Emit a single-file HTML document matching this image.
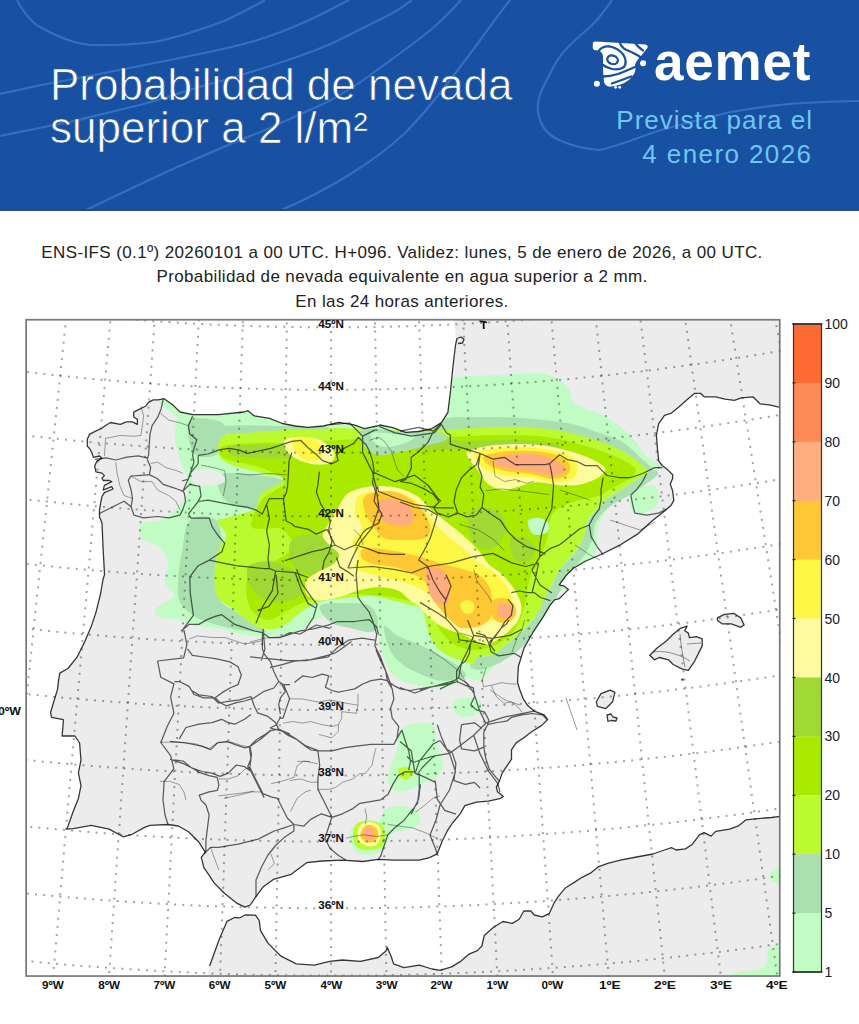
<!DOCTYPE html>
<html><head><meta charset="utf-8"><style>
*{margin:0;padding:0;box-sizing:border-box}
html,body{width:859px;height:1024px;background:#fff;overflow:hidden}
body{position:relative;font-family:"Liberation Sans",Arial,sans-serif}
#hdr{position:absolute;left:0;top:0;width:859px;height:211px;background:#1851a1;overflow:hidden}
.l{position:absolute;white-space:nowrap;line-height:1}
.t{left:50px;color:#fff;font-size:44px;-webkit-text-stroke:0.7px #1851a1;paint-order:normal}
.s{right:50px;color:#6ec6f2;font-size:26px;text-align:right}
#logo{left:654px;top:35px;color:#fff;font-weight:bold;font-size:53px;letter-spacing:0.8px}
.sub{left:0;width:804px;text-align:center;font-size:17px;letter-spacing:0.38px;color:#222}
</style></head><body>
<div id="hdr">
<svg width="859" height="211" viewBox="0 0 859 211" style="position:absolute;left:0;top:0" fill="none" stroke="#336fc4" stroke-width="2.2">
<path d="M17,0 C25,15 33,24 42,28 C60,38 75,44 91,45 C115,46 135,44 154,42 C180,37 200,30 224,21 C240,14 253,7 265,0"/>
<path d="M0,94 C30,87 55,82 84,77 C115,71 145,65 175,59 C205,53 230,48 251,42 C275,35 292,28 307,21 C325,13 337,6 349,0"/>
<path d="M0,136 C25,131 48,126 70,122 C95,116 118,110 140,105 C165,98 188,90 210,84 C235,77 258,70 279,63 C300,56 318,50 335,42 C355,32 373,23 391,14 C400,9 406,4 412,0"/>
<path d="M84,211 C115,196 145,182 175,168 C205,155 232,143 258,133 C280,124 300,114 321,105 C342,95 360,83 377,70 C398,55 416,42 433,28 C444,18 453,9 461,0"/>
<path d="M279,211 C305,200 328,188 349,175 C370,162 389,148 405,133 C420,118 434,101 447,84 C462,65 476,46 489,28 C496,18 503,9 510,0"/>
<path d="M612,0 C605,10 598,20 590,27 C575,40 560,52 552,70 C544,85 536,98 538,112 C540,126 548,135 559,140 C572,146 585,149 600,150 C620,146 643,135 665,129 C690,122 712,116 734,111.5 C760,107 782,104 804,103 C825,102 842,101 859,101"/>
</svg>
<div style="position:absolute;left:0;top:208.8px;width:859px;height:2.1px;background:#234d8a"></div>
<div class="l t" style="top:62.8px">Probabilidad de nevada</div>
<div class="l t" style="top:106px">superior a 2 l/m²</div>
<div class="l" id="logo">aemet</div>
<svg style="position:absolute;left:588px;top:36px" width="64" height="56" viewBox="0 0 64 56">
<path fill="#fff" d="M5,8 Q4,5.5 7.5,5.5 L57.5,8.5 Q61,9.5 59,12.5 L53,20 Q48,25 47,29 Q48.5,33 46,38 L42,43 Q36,48 29,49.5 L22,50.8 Q17,50 16,46 L15,34 L15,20 Q14,15 10,14.5 L6,14 Q4,12 5,8 Z"/>
<g fill="none" stroke="#1851a1" stroke-width="2.3" stroke-linecap="round">
<ellipse cx="24.6" cy="23.8" rx="5.4" ry="4.2" transform="rotate(20 24.6 23.8)"/>
<path d="M11,14.5 Q15,9.5 22,10.5 Q31,12.5 35.5,19 Q39.5,26 36,31 Q31,34.5 24,33 Q18,31.5 15,29"/>
<path d="M31.5,5.5 Q33,11 37.5,13.5 Q44,16 50,19.5 L53,21.5"/>
<path d="M47.5,7.5 Q50.5,11.5 55,14.5"/>
<path d="M15,40.5 Q22,40.5 30,38 Q38,35 47,31"/>
<path d="M24,47.5 Q34,44 43,40.5"/>
</g>
<circle cx="55.1" cy="27.2" r="3" fill="#fff"/><circle cx="8.9" cy="47.7" r="3" fill="#fff"/>
<circle cx="27.6" cy="51.3" r="1.4" fill="#fff"/><circle cx="31.7" cy="51.3" r="1.4" fill="#fff"/>
</svg>
<div class="l s" style="top:106.7px;letter-spacing:1px;right:46px">Prevista para el</div>
<div class="l s" style="top:140.8px;letter-spacing:1.4px;right:46.6px">4 enero 2026</div>
</div>
<div class="l sub" style="top:243.6px">ENS-IFS (0.1º) 20260101 a 00 UTC. H+096. Validez: lunes, 5 de enero de 2026, a 00 UTC.</div>
<div class="l sub" style="top:268.2px">Probabilidad de nevada equivalente en agua superior a 2 mm.</div>
<div class="l sub" style="top:293.1px">En las 24 horas anteriores.</div>
<svg width="859" height="1024" viewBox="0 0 859 1024" style="position:absolute;left:0;top:0">
<defs><clipPath id="fr"><rect x="25.3" y="318.9" width="755.3000000000001" height="658.0"/></clipPath><clipPath id="landclip"><path d="M454.0,319.0 L455.5,335.0 L456.0,340.0 L455.5,345.0 L453.0,366.0 L450.4,391.8 L447.9,412.3 L441.5,422.6 L431.0,429.0 L418.4,431.5 L405.6,432.3 L392.8,427.7 L380.0,425.0 L377.2,426.0 L364.4,428.7 L354.0,424.8 L338.8,422.3 L323.4,426.0 L308.0,427.4 L295.2,426.0 L282.4,423.5 L269.6,418.4 L254.3,415.9 L247.9,410.7 L244.0,412.0 L218.4,414.6 L192.8,414.6 L180.0,412.0 L173.6,405.6 L164.2,398.7 L158.1,399.9 L153.3,399.9 L148.4,402.3 L145.9,406.0 L138.6,409.7 L133.7,412.1 L133.7,417.0 L137.4,419.4 L137.4,424.3 L132.5,421.9 L126.4,421.9 L120.3,424.3 L110.5,422.5 L105.6,425.5 L102.0,428.0 L94.7,431.6 L89.8,434.1 L87.3,439.0 L87.3,446.3 L89.8,448.7 L92.2,453.6 L93.4,457.3 L99.5,456.0 L102.0,458.5 L97.1,460.9 L94.7,465.8 L95.9,471.9 L102.0,473.1 L104.4,475.6 L102.0,478.0 L103.2,480.5 L109.3,480.5 L111.7,481.7 L104.4,485.4 L103.2,490.2 L111.7,486.6 L113.0,489.0 L104.4,492.7 L102.0,496.3 L100.8,502.4 L99.5,509.8 L99.5,517.1 L102.0,523.0 L103.0,546.5 L104.5,574.6 L102.9,580.0 L100.5,594.0 L95.9,612.6 L91.2,626.6 L84.2,642.9 L77.3,656.8 L67.9,668.5 L59.8,673.1 L58.6,680.1 L57.5,689.4 L54.0,701.0 L50.5,712.7 L51.6,717.4 L63.3,719.7 L63.3,722.0 L62.1,736.0 L74.9,736.0 L79.6,743.0 L80.7,757.0 L81.0,760.0 L78.4,772.8 L81.0,785.6 L78.4,798.4 L73.3,811.2 L66.9,829.1 L73.3,828.6 L91.2,825.3 L109.1,829.1 L123.2,836.8 L132.2,834.3 L145.0,827.1 L150.1,825.3 L168.0,824.5 L178.3,826.0 L188.5,831.7 L198.8,842.0 L205.2,852.2 L201.3,857.3 L203.9,867.6 L209.0,875.2 L214.1,882.9 L224.4,893.2 L237.2,903.4 L244.9,907.2 L250.2,905.0 L255.4,897.3 L263.0,887.1 L273.3,879.4 L291.2,874.3 L306.6,862.7 L322.0,861.0 L342.4,860.2 L362.9,861.5 L378.3,859.4 L393.6,860.2 L419.3,860.2 L429.5,857.6 L437.2,853.8 L442.3,841.0 L447.4,830.7 L452.5,823.0 L460.0,814.1 L464.9,805.7 L476.6,802.2 L488.2,801.1 L499.8,798.7 L503.3,796.4 L497.5,791.8 L496.4,787.1 L499.8,780.1 L502.2,773.1 L506.8,766.1 L511.5,759.2 L511.5,749.8 L516.1,742.9 L523.1,738.2 L532.4,731.2 L541.8,725.4 L547.6,719.6 L544.1,714.9 L534.8,711.4 L527.8,705.6 L523.1,698.6 L519.6,689.3 L517.5,682.0 L518.4,666.3 L524.2,647.6 L533.6,631.3 L542.9,617.4 L549.8,605.7 L554.5,599.9 L559.2,598.7 L563.8,594.1 L568.5,589.4 L563.8,585.9 L559.2,584.8 L566.1,575.5 L573.1,568.5 L584.8,561.5 L601.1,554.5 L619.7,545.2 L638.3,533.6 L652.3,520.7 L663.9,511.4 L670.9,505.6 L673.8,500.4 L672.7,491.1 L670.3,484.1 L672.7,478.3 L672.7,474.8 L668.0,470.1 L662.2,465.5 L658.7,460.8 L657.5,449.2 L656.4,435.2 L658.7,423.6 L664.5,415.4 L671.5,413.1 L678.5,407.3 L687.8,399.1 L694.8,393.3 L700.6,393.3 L704.1,396.8 L715.7,396.8 L725.0,399.1 L734.4,400.3 L741.3,397.9 L753.0,396.8 L760.0,403.8 L769.3,404.9 L780.0,407.3 L780.0,319.0 Z M207.0,976.0 L209.6,966.0 L219.3,939.3 L227.0,921.3 L234.6,917.5 L240.0,917.8 L244.9,915.0 L255.4,915.2 L259.2,920.4 L260.5,930.6 L268.2,943.4 L281.0,956.2 L296.3,963.9 L314.3,965.2 L329.6,961.3 L342.4,960.0 L360.4,961.3 L378.3,957.5 L386.0,951.0 L387.2,947.2 L391.1,956.2 L393.6,963.9 L403.9,967.7 L419.3,965.2 L432.0,969.0 L440.0,970.4 L451.6,966.9 L461.0,961.1 L469.1,954.1 L477.3,950.6 L481.9,946.0 L484.2,935.5 L493.6,927.3 L502.9,921.5 L512.2,923.4 L519.2,919.2 L523.8,911.0 L530.8,911.0 L534.3,915.0 L542.4,916.8 L549.4,913.3 L554.1,902.9 L558.7,895.9 L565.7,887.7 L575.0,881.9 L582.0,877.3 L591.3,872.6 L598.3,866.8 L607.6,863.3 L620.3,860.1 L636.6,857.0 L652.9,854.0 L664.5,850.0 L671.5,847.7 L676.1,850.0 L685.5,848.9 L692.4,844.2 L699.4,834.9 L704.1,832.6 L711.1,836.1 L715.7,831.4 L729.7,829.1 L739.0,825.6 L746.0,819.8 L757.6,818.6 L771.6,817.5 L780.0,816.3 L780.0,976.0 Z M649.8,655.2 L656.8,648.2 L666.1,641.2 L673.1,634.2 L680.1,628.4 L687.1,626.1 L684.8,630.7 L688.3,633.1 L689.4,637.7 L696.4,636.6 L702.2,638.9 L702.2,645.9 L698.7,652.9 L694.1,662.2 L688.3,670.3 L682.4,669.2 L673.1,664.5 L668.5,659.8 L659.2,657.5 L654.5,659.8 Z M717.4,617.9 L724.4,614.4 L733.7,613.3 L740.7,617.9 L744.1,624.9 L740.7,627.3 L731.3,623.8 L722.0,623.8 L717.4,620.3 Z M596.3,701.8 L601.0,693.6 L610.3,690.1 L614.9,692.4 L612.6,701.8 L605.6,708.7 L597.5,706.4 Z M607.0,715.0 L611.0,714.0 L613.0,717.0 L617.0,718.0 L616.0,721.0 L611.0,720.5 L608.0,721.5 Z"/></clipPath></defs>
<rect x="25.3" y="318.9" width="755.3000000000001" height="658.0" fill="#fff"/>
<g clip-path="url(#fr)">
<g fill="#ececec"><path d="M454.0,319.0 L455.5,335.0 L456.0,340.0 L455.5,345.0 L453.0,366.0 L450.4,391.8 L447.9,412.3 L441.5,422.6 L431.0,429.0 L418.4,431.5 L405.6,432.3 L392.8,427.7 L380.0,425.0 L377.2,426.0 L364.4,428.7 L354.0,424.8 L338.8,422.3 L323.4,426.0 L308.0,427.4 L295.2,426.0 L282.4,423.5 L269.6,418.4 L254.3,415.9 L247.9,410.7 L244.0,412.0 L218.4,414.6 L192.8,414.6 L180.0,412.0 L173.6,405.6 L164.2,398.7 L158.1,399.9 L153.3,399.9 L148.4,402.3 L145.9,406.0 L138.6,409.7 L133.7,412.1 L133.7,417.0 L137.4,419.4 L137.4,424.3 L132.5,421.9 L126.4,421.9 L120.3,424.3 L110.5,422.5 L105.6,425.5 L102.0,428.0 L94.7,431.6 L89.8,434.1 L87.3,439.0 L87.3,446.3 L89.8,448.7 L92.2,453.6 L93.4,457.3 L99.5,456.0 L102.0,458.5 L97.1,460.9 L94.7,465.8 L95.9,471.9 L102.0,473.1 L104.4,475.6 L102.0,478.0 L103.2,480.5 L109.3,480.5 L111.7,481.7 L104.4,485.4 L103.2,490.2 L111.7,486.6 L113.0,489.0 L104.4,492.7 L102.0,496.3 L100.8,502.4 L99.5,509.8 L99.5,517.1 L102.0,523.0 L103.0,546.5 L104.5,574.6 L102.9,580.0 L100.5,594.0 L95.9,612.6 L91.2,626.6 L84.2,642.9 L77.3,656.8 L67.9,668.5 L59.8,673.1 L58.6,680.1 L57.5,689.4 L54.0,701.0 L50.5,712.7 L51.6,717.4 L63.3,719.7 L63.3,722.0 L62.1,736.0 L74.9,736.0 L79.6,743.0 L80.7,757.0 L81.0,760.0 L78.4,772.8 L81.0,785.6 L78.4,798.4 L73.3,811.2 L66.9,829.1 L73.3,828.6 L91.2,825.3 L109.1,829.1 L123.2,836.8 L132.2,834.3 L145.0,827.1 L150.1,825.3 L168.0,824.5 L178.3,826.0 L188.5,831.7 L198.8,842.0 L205.2,852.2 L201.3,857.3 L203.9,867.6 L209.0,875.2 L214.1,882.9 L224.4,893.2 L237.2,903.4 L244.9,907.2 L250.2,905.0 L255.4,897.3 L263.0,887.1 L273.3,879.4 L291.2,874.3 L306.6,862.7 L322.0,861.0 L342.4,860.2 L362.9,861.5 L378.3,859.4 L393.6,860.2 L419.3,860.2 L429.5,857.6 L437.2,853.8 L442.3,841.0 L447.4,830.7 L452.5,823.0 L460.0,814.1 L464.9,805.7 L476.6,802.2 L488.2,801.1 L499.8,798.7 L503.3,796.4 L497.5,791.8 L496.4,787.1 L499.8,780.1 L502.2,773.1 L506.8,766.1 L511.5,759.2 L511.5,749.8 L516.1,742.9 L523.1,738.2 L532.4,731.2 L541.8,725.4 L547.6,719.6 L544.1,714.9 L534.8,711.4 L527.8,705.6 L523.1,698.6 L519.6,689.3 L517.5,682.0 L518.4,666.3 L524.2,647.6 L533.6,631.3 L542.9,617.4 L549.8,605.7 L554.5,599.9 L559.2,598.7 L563.8,594.1 L568.5,589.4 L563.8,585.9 L559.2,584.8 L566.1,575.5 L573.1,568.5 L584.8,561.5 L601.1,554.5 L619.7,545.2 L638.3,533.6 L652.3,520.7 L663.9,511.4 L670.9,505.6 L673.8,500.4 L672.7,491.1 L670.3,484.1 L672.7,478.3 L672.7,474.8 L668.0,470.1 L662.2,465.5 L658.7,460.8 L657.5,449.2 L656.4,435.2 L658.7,423.6 L664.5,415.4 L671.5,413.1 L678.5,407.3 L687.8,399.1 L694.8,393.3 L700.6,393.3 L704.1,396.8 L715.7,396.8 L725.0,399.1 L734.4,400.3 L741.3,397.9 L753.0,396.8 L760.0,403.8 L769.3,404.9 L780.0,407.3 L780.0,319.0 Z"/><path d="M207.0,976.0 L209.6,966.0 L219.3,939.3 L227.0,921.3 L234.6,917.5 L240.0,917.8 L244.9,915.0 L255.4,915.2 L259.2,920.4 L260.5,930.6 L268.2,943.4 L281.0,956.2 L296.3,963.9 L314.3,965.2 L329.6,961.3 L342.4,960.0 L360.4,961.3 L378.3,957.5 L386.0,951.0 L387.2,947.2 L391.1,956.2 L393.6,963.9 L403.9,967.7 L419.3,965.2 L432.0,969.0 L440.0,970.4 L451.6,966.9 L461.0,961.1 L469.1,954.1 L477.3,950.6 L481.9,946.0 L484.2,935.5 L493.6,927.3 L502.9,921.5 L512.2,923.4 L519.2,919.2 L523.8,911.0 L530.8,911.0 L534.3,915.0 L542.4,916.8 L549.4,913.3 L554.1,902.9 L558.7,895.9 L565.7,887.7 L575.0,881.9 L582.0,877.3 L591.3,872.6 L598.3,866.8 L607.6,863.3 L620.3,860.1 L636.6,857.0 L652.9,854.0 L664.5,850.0 L671.5,847.7 L676.1,850.0 L685.5,848.9 L692.4,844.2 L699.4,834.9 L704.1,832.6 L711.1,836.1 L715.7,831.4 L729.7,829.1 L739.0,825.6 L746.0,819.8 L757.6,818.6 L771.6,817.5 L780.0,816.3 L780.0,976.0 Z"/><path d="M649.8,655.2 L656.8,648.2 L666.1,641.2 L673.1,634.2 L680.1,628.4 L687.1,626.1 L684.8,630.7 L688.3,633.1 L689.4,637.7 L696.4,636.6 L702.2,638.9 L702.2,645.9 L698.7,652.9 L694.1,662.2 L688.3,670.3 L682.4,669.2 L673.1,664.5 L668.5,659.8 L659.2,657.5 L654.5,659.8 Z"/><path d="M717.4,617.9 L724.4,614.4 L733.7,613.3 L740.7,617.9 L744.1,624.9 L740.7,627.3 L731.3,623.8 L722.0,623.8 L717.4,620.3 Z"/><path d="M596.3,701.8 L601.0,693.6 L610.3,690.1 L614.9,692.4 L612.6,701.8 L605.6,708.7 L597.5,706.4 Z"/><path d="M607.0,715.0 L611.0,714.0 L613.0,717.0 L617.0,718.0 L616.0,721.0 L611.0,720.5 L608.0,721.5 Z"/></g>
<g clip-path="url(#landclip)">
<path fill="#c0fcc4" d="M178.0,395.0 C220.2,390.7 385.5,394.3 430.0,392.0 C474.5,389.7 440.3,383.5 445.0,381.0 C449.7,378.5 453.8,377.8 458.0,377.0 C462.2,376.2 463.3,376.3 470.0,376.0 C476.7,375.7 486.8,375.5 498.0,375.0 C509.2,374.5 527.3,372.5 537.0,373.0 C546.7,373.5 550.7,375.3 556.0,378.0 C561.3,380.7 566.2,385.0 569.0,389.0 C571.8,393.0 570.2,398.7 573.0,402.0 C575.8,405.3 581.2,406.8 586.0,409.0 C590.8,411.2 596.0,411.8 602.0,415.0 C608.0,418.2 616.5,423.7 622.0,428.0 C627.5,432.3 630.7,436.0 635.0,441.0 C639.3,446.0 643.5,453.8 648.0,458.0 C652.5,462.2 662.3,463.7 662.0,466.0 C661.7,468.3 650.3,468.2 646.0,472.0 C641.7,475.8 639.2,485.0 636.0,489.0 C632.8,493.0 631.0,493.5 627.0,496.0 C623.0,498.5 616.2,500.3 612.0,504.0 C607.8,507.7 604.5,513.2 602.0,518.0 C599.5,522.8 597.8,528.5 597.0,533.0 C596.2,537.5 597.2,541.2 597.0,545.0 C596.8,548.8 593.5,552.5 596.0,556.0 C598.5,559.5 613.8,559.0 612.0,566.0 C610.2,573.0 593.0,594.0 585.0,598.0 C577.0,602.0 569.2,590.0 564.0,590.0 C558.8,590.0 557.3,594.5 554.0,598.0 C550.7,601.5 547.0,606.7 544.0,611.0 C541.0,615.3 539.0,619.7 536.0,624.0 C533.0,628.3 529.3,633.2 526.0,637.0 C522.7,640.8 519.8,643.7 516.0,647.0 C512.2,650.3 509.0,651.5 503.0,657.0 C497.0,662.5 485.9,676.5 480.0,680.0 C474.1,683.5 471.1,677.7 467.6,678.0 C464.1,678.3 461.8,680.7 459.0,682.0 C456.2,683.3 454.8,684.9 451.0,686.0 C447.2,687.1 440.9,688.4 436.0,688.5 C431.1,688.6 426.7,687.5 421.5,686.4 C416.3,685.3 409.9,684.1 405.0,682.0 C400.1,679.9 395.5,677.8 392.0,674.0 C388.5,670.2 386.0,664.3 384.0,659.0 C382.0,653.7 381.1,647.5 380.0,642.0 C378.9,636.5 379.3,631.5 377.5,626.0 C375.7,620.5 372.8,612.2 369.0,609.0 C365.2,605.8 359.0,607.5 354.5,607.0 C350.0,606.5 345.9,605.0 342.0,606.0 C338.1,607.0 335.8,610.5 331.0,613.0 C326.2,615.5 318.2,618.0 313.0,621.0 C307.8,624.0 304.3,628.8 300.0,631.0 C295.7,633.2 292.5,633.0 287.0,634.0 C281.5,635.0 274.7,637.0 267.0,637.0 C259.3,637.0 248.9,635.5 240.6,634.0 C232.3,632.5 224.8,629.4 217.0,628.0 C209.2,626.6 200.2,626.8 194.0,625.5 C187.8,624.2 185.3,621.4 179.5,620.0 C173.7,618.6 162.9,619.0 159.0,617.0 C155.1,615.0 153.5,611.5 156.0,608.0 C158.5,604.5 172.5,600.3 174.0,596.0 C175.5,591.7 166.0,587.8 165.0,582.0 C164.0,576.2 169.0,567.3 168.0,561.5 C167.0,555.7 163.4,550.9 159.0,547.0 C154.6,543.1 144.5,541.8 141.6,538.0 C138.7,534.2 137.7,527.3 141.6,524.0 C145.5,520.7 157.8,522.3 165.0,518.0 C172.2,513.7 181.2,504.0 185.0,498.0 C188.8,492.0 188.8,488.3 188.0,482.0 C187.2,475.7 182.2,467.7 180.0,460.0 C177.8,452.3 175.5,443.0 175.0,436.0 C174.5,429.0 176.5,424.8 177.0,418.0 C177.5,411.2 135.8,399.3 178.0,395.0 Z M636.0,489.0 C640.3,486.0 652.5,484.3 656.0,487.0 C659.5,489.7 659.7,500.5 657.0,505.0 C654.3,509.5 644.5,514.0 640.0,514.0 C635.5,514.0 630.7,509.2 630.0,505.0 C629.3,500.8 631.7,492.0 636.0,489.0 Z M399.8,729.9 C402.6,726.6 409.3,724.0 414.8,723.2 C420.3,722.4 429.4,722.1 433.0,724.9 C436.6,727.7 435.2,735.1 436.3,739.8 C437.4,744.5 438.6,748.9 439.7,753.1 C440.8,757.3 443.6,760.6 443.0,764.8 C442.4,768.9 439.6,775.0 436.3,778.0 C433.0,781.0 427.4,781.0 423.0,783.0 C418.6,785.0 414.2,788.3 409.8,789.7 C405.4,791.1 400.1,792.4 396.5,791.3 C392.9,790.2 389.3,786.6 388.2,783.0 C387.1,779.4 388.7,774.1 389.8,769.7 C390.9,765.3 393.4,760.8 394.8,756.4 C396.2,752.0 397.3,747.6 398.1,743.2 C398.9,738.8 397.0,733.2 399.8,729.9 Z M452.0,704.0 C452.7,701.2 457.7,698.8 462.0,698.0 C466.3,697.2 474.7,697.3 478.0,699.0 C481.3,700.7 483.0,705.2 482.0,708.0 C481.0,710.8 476.0,714.8 472.0,716.0 C468.0,717.2 461.3,717.0 458.0,715.0 C454.7,713.0 451.3,706.8 452.0,704.0 Z M383.0,812.0 C386.3,807.0 392.5,806.3 398.0,806.0 C403.5,805.7 412.3,807.3 416.0,810.0 C419.7,812.7 421.0,818.8 420.0,822.0 C419.0,825.2 414.2,827.3 410.0,829.0 C405.8,830.7 399.0,830.2 395.0,832.0 C391.0,833.8 388.8,839.3 386.0,840.0 C383.2,840.7 378.5,840.7 378.0,836.0 C377.5,831.3 379.7,817.0 383.0,812.0 Z M350.0,834.0 C350.2,829.5 352.8,826.3 356.0,824.0 C359.2,821.7 364.5,820.2 369.0,820.0 C373.5,819.8 379.7,820.7 383.0,823.0 C386.3,825.3 388.7,829.8 389.0,834.0 C389.3,838.2 388.2,844.5 385.0,848.0 C381.8,851.5 375.0,854.5 370.0,855.0 C365.0,855.5 358.3,854.5 355.0,851.0 C351.7,847.5 349.8,838.5 350.0,834.0 Z M726.0,978.0 C719.0,977.0 734.3,973.5 740.0,972.0 C745.7,970.5 755.5,970.7 760.0,969.0 C764.5,967.3 765.7,965.2 767.0,962.0 C768.3,958.8 766.5,952.7 768.0,950.0 C769.5,947.3 773.7,946.7 776.0,946.0 C778.3,945.3 781.0,940.7 782.0,946.0 C783.0,951.3 791.3,972.7 782.0,978.0 C772.7,983.3 733.0,979.0 726.0,978.0 Z M770.0,874.0 C771.7,871.5 780.0,864.7 782.0,866.0 C784.0,867.3 783.7,879.5 782.0,882.0 C780.3,884.5 774.0,882.3 772.0,881.0 C770.0,879.7 768.3,876.5 770.0,874.0 Z"/>
<path fill="#aae0b0" d="M436.0,421.0 C442.9,416.2 465.8,417.4 481.5,417.0 C497.2,416.6 515.3,417.6 530.0,418.7 C544.7,419.8 558.6,421.4 569.5,423.6 C580.4,425.8 586.9,428.7 595.6,431.7 C604.3,434.7 614.0,437.1 621.6,441.5 C629.2,445.9 635.9,453.4 641.0,458.0 C646.1,462.6 652.2,467.0 652.0,469.0 C651.8,471.0 645.3,471.8 640.0,470.0 C634.7,468.2 626.7,461.3 620.0,458.0 C613.3,454.7 608.3,452.2 600.0,450.0 C591.7,447.8 581.7,446.2 570.0,445.0 C558.3,443.8 545.0,443.2 530.0,443.0 C515.0,442.8 495.0,443.5 480.0,444.0 C465.0,444.5 447.3,449.8 440.0,446.0 C432.7,442.2 429.1,425.8 436.0,421.0 Z M190.0,420.0 C194.3,416.7 209.0,418.7 215.0,420.0 C221.0,421.3 224.5,423.8 226.0,428.0 C227.5,432.2 226.0,440.3 224.0,445.0 C222.0,449.7 218.7,454.3 214.0,456.0 C209.3,457.7 200.2,457.7 196.0,455.0 C191.8,452.3 190.0,445.8 189.0,440.0 C188.0,434.2 185.7,423.3 190.0,420.0 Z M222.0,474.0 C227.3,472.3 239.7,472.8 250.0,474.0 C260.3,475.2 282.0,477.7 284.0,481.0 C286.0,484.3 266.7,489.5 262.0,494.0 C257.3,498.5 260.5,506.0 256.0,508.0 C251.5,510.0 240.7,508.0 235.0,506.0 C229.3,504.0 224.8,499.7 222.0,496.0 C219.2,492.3 218.0,487.7 218.0,484.0 C218.0,480.3 216.7,475.7 222.0,474.0 Z M226.0,426.0 C236.3,424.7 272.7,425.7 290.0,426.0 C307.3,426.3 328.3,426.7 330.0,428.0 C331.7,429.3 313.3,433.0 300.0,434.0 C286.7,435.0 262.0,434.0 250.0,434.0 C238.0,434.0 232.0,435.3 228.0,434.0 C224.0,432.7 215.7,427.3 226.0,426.0 Z M190.0,520.0 C195.7,514.7 210.7,515.0 216.0,520.0 C221.3,525.0 222.0,540.3 222.0,550.0 C222.0,559.7 216.3,569.7 216.0,578.0 C215.7,586.3 216.7,594.3 220.0,600.0 C223.3,605.7 230.7,608.3 236.0,612.0 C241.3,615.7 247.0,618.7 252.0,622.0 C257.0,625.3 268.0,630.7 266.0,632.0 C264.0,633.3 248.7,631.3 240.0,630.0 C231.3,628.7 221.7,626.3 214.0,624.0 C206.3,621.7 199.7,619.7 194.0,616.0 C188.3,612.3 182.7,608.0 180.0,602.0 C177.3,596.0 177.7,588.3 178.0,580.0 C178.3,571.7 180.0,562.0 182.0,552.0 C184.0,542.0 184.3,525.3 190.0,520.0 Z M384.0,626.0 C385.3,623.7 392.0,632.8 398.0,636.0 C404.0,639.2 413.0,641.8 420.0,645.0 C427.0,648.2 433.7,651.5 440.0,655.0 C446.3,658.5 453.7,662.5 458.0,666.0 C462.3,669.5 467.0,673.7 466.0,676.0 C465.0,678.3 457.0,679.3 452.0,680.0 C447.0,680.7 441.7,681.2 436.0,680.0 C430.3,678.8 423.7,675.7 418.0,673.0 C412.3,670.3 406.7,667.8 402.0,664.0 C397.3,660.2 393.0,656.3 390.0,650.0 C387.0,643.7 382.7,628.3 384.0,626.0 Z M652.0,470.0 C649.2,470.5 646.0,473.8 641.0,477.0 C636.0,480.2 627.7,485.3 622.0,489.0 C616.3,492.7 611.2,495.7 607.0,499.0 C602.8,502.3 600.2,505.3 597.0,509.0 C593.8,512.7 590.0,517.0 588.0,521.0 C586.0,525.0 586.7,528.5 585.0,533.0 C583.3,537.5 580.8,543.5 578.0,548.0 C575.2,552.5 571.3,556.0 568.0,560.0 C564.7,564.0 560.8,567.5 558.0,572.0 C555.2,576.5 553.5,582.3 551.0,587.0 C548.5,591.7 545.0,596.0 543.0,600.0 C541.0,604.0 541.3,607.0 539.0,611.0 C536.7,615.0 532.8,619.7 529.0,624.0 C525.2,628.3 520.3,633.2 516.0,637.0 C511.7,640.8 506.8,644.0 503.0,647.0 C499.2,650.0 497.3,653.2 493.0,655.0 C488.7,656.8 480.8,656.2 477.0,658.0 C473.2,659.8 469.5,664.0 470.0,666.0 C470.5,668.0 475.5,670.3 480.0,670.0 C484.5,669.7 491.7,666.5 497.0,664.0 C502.3,661.5 507.5,658.2 512.0,655.0 C516.5,651.8 520.2,649.0 524.0,645.0 C527.8,641.0 531.3,635.7 535.0,631.0 C538.7,626.3 543.0,621.5 546.0,617.0 C549.0,612.5 550.7,608.3 553.0,604.0 C555.3,599.7 557.7,595.3 560.0,591.0 C562.3,586.7 564.2,582.3 567.0,578.0 C569.8,573.7 573.8,569.2 577.0,565.0 C580.2,560.8 583.3,557.5 586.0,553.0 C588.7,548.5 591.5,542.8 593.0,538.0 C594.5,533.2 593.5,528.0 595.0,524.0 C596.5,520.0 599.2,517.2 602.0,514.0 C604.8,510.8 607.7,508.0 612.0,505.0 C616.3,502.0 622.3,499.5 628.0,496.0 C633.7,492.5 641.0,487.7 646.0,484.0 C651.0,480.3 657.0,476.3 658.0,474.0 C659.0,471.7 654.8,469.5 652.0,470.0 Z M320.0,606.0 C322.5,602.8 336.7,603.0 345.0,603.0 C353.3,603.0 364.5,602.8 370.0,606.0 C375.5,609.2 377.7,617.7 378.0,622.0 C378.3,626.3 376.7,631.0 372.0,632.0 C367.3,633.0 357.0,629.7 350.0,628.0 C343.0,626.3 335.0,625.7 330.0,622.0 C325.0,618.3 317.5,609.2 320.0,606.0 Z"/>
<path fill="#ececec" d="M192.0,472.0 C194.2,469.5 203.0,468.7 208.0,469.0 C213.0,469.3 219.3,471.8 222.0,474.0 C224.7,476.2 226.0,480.0 224.0,482.0 C222.0,484.0 214.8,485.7 210.0,486.0 C205.2,486.3 198.0,486.3 195.0,484.0 C192.0,481.7 189.8,474.5 192.0,472.0 Z"/>
<path fill="#bcfa30" d="M222.0,437.0 C226.7,432.5 239.5,434.2 250.0,433.0 C260.5,431.8 275.0,430.5 285.0,430.0 C295.0,429.5 300.8,430.3 310.0,430.0 C319.2,429.7 328.3,428.0 340.0,428.0 C351.7,428.0 364.6,429.6 380.0,430.0 C395.4,430.4 418.4,430.4 432.6,430.1 C446.8,429.8 451.6,428.9 465.2,428.4 C478.8,427.8 498.9,426.5 514.1,426.8 C529.3,427.1 545.1,428.5 556.5,430.1 C567.9,431.7 573.8,434.2 582.5,436.6 C591.2,439.0 601.0,441.7 608.6,444.7 C616.2,447.7 622.8,451.2 628.2,454.5 C633.6,457.8 637.9,461.6 641.2,464.3 C644.5,467.1 648.0,468.9 648.0,471.0 C648.0,473.1 645.4,474.0 641.0,477.0 C636.6,480.0 627.3,485.3 621.6,488.9 C615.9,492.5 611.0,495.4 606.9,498.7 C602.8,502.0 600.4,504.8 597.1,508.5 C593.9,512.2 589.4,516.6 587.4,520.7 C585.4,524.8 586.5,528.4 584.9,532.9 C583.3,537.4 580.5,543.1 577.6,547.6 C574.8,552.1 571.1,555.7 567.8,559.8 C564.5,563.9 560.9,567.5 558.0,572.0 C555.1,576.5 553.2,582.1 550.7,586.7 C548.2,591.4 545.3,595.8 543.3,599.9 C541.3,604.0 541.3,607.2 538.8,611.2 C536.3,615.2 532.4,619.7 528.5,624.0 C524.6,628.3 520.0,632.9 515.7,636.8 C511.4,640.6 506.7,644.1 502.9,647.1 C499.1,650.1 497.0,653.0 492.7,654.7 C488.4,656.4 480.4,655.9 477.3,657.3 C474.2,658.7 476.2,662.6 473.9,663.3 C471.6,663.9 467.3,662.2 463.5,661.2 C459.7,660.2 455.1,659.2 450.9,657.1 C446.7,655.0 441.8,652.2 438.3,648.7 C434.8,645.2 432.0,640.7 429.9,636.1 C427.8,631.5 427.1,625.9 425.7,621.4 C424.3,616.9 424.3,611.7 421.5,608.9 C418.7,606.1 413.9,606.1 409.0,604.7 C404.1,603.3 398.1,601.9 392.2,600.5 C386.2,599.1 381.7,596.6 373.3,596.3 C364.9,595.9 351.3,597.3 341.9,598.4 C332.5,599.5 323.8,600.2 316.8,602.6 C309.8,605.0 305.9,608.9 300.0,613.0 C294.1,617.1 287.8,624.4 281.3,627.0 C274.8,629.6 266.8,629.6 261.0,628.4 C255.2,627.2 251.2,623.1 246.4,619.7 C241.6,616.3 236.8,612.0 231.9,608.1 C227.1,604.2 220.2,601.8 217.3,596.4 C214.4,591.0 214.4,583.3 214.4,576.0 C214.4,568.7 215.4,559.6 217.3,552.8 C219.2,546.0 226.1,540.6 226.0,535.3 C225.9,530.0 217.0,523.9 217.0,521.0 C217.0,518.1 219.7,520.0 226.0,518.0 C232.3,516.0 249.2,513.0 255.0,509.0 C260.8,505.0 256.0,499.0 261.0,494.0 C266.0,489.0 285.0,482.5 285.0,479.0 C285.0,475.5 271.5,476.2 261.0,473.0 C250.5,469.8 228.5,466.0 222.0,460.0 C215.5,454.0 217.3,441.5 222.0,437.0 Z M398.0,770.0 C398.8,768.2 403.5,766.8 406.0,767.0 C408.5,767.2 412.3,769.2 413.0,771.0 C413.7,772.8 412.0,776.8 410.0,778.0 C408.0,779.2 403.0,779.3 401.0,778.0 C399.0,776.7 397.2,771.8 398.0,770.0 Z M353.0,833.0 C353.2,829.0 355.3,825.0 358.0,823.0 C360.7,821.0 365.2,820.8 369.0,821.0 C372.8,821.2 378.3,821.8 381.0,824.0 C383.7,826.2 384.8,830.3 385.0,834.0 C385.2,837.7 384.5,843.3 382.0,846.0 C379.5,848.7 374.2,849.8 370.0,850.0 C365.8,850.2 359.8,849.8 357.0,847.0 C354.2,844.2 352.8,837.0 353.0,833.0 Z"/>
<path fill="#aaea00" d="M224.0,446.0 C230.0,443.5 247.3,443.5 260.0,443.0 C272.7,442.5 286.7,443.5 300.0,443.0 C313.3,442.5 326.7,440.8 340.0,440.0 C353.3,439.2 366.7,438.5 380.0,438.0 C393.3,437.5 408.5,437.2 420.0,437.0 C431.5,436.8 436.0,437.3 449.0,437.0 C462.0,436.7 481.7,435.0 498.0,435.0 C514.3,435.0 533.0,435.3 547.0,437.0 C561.0,438.7 571.2,442.0 582.0,445.0 C592.8,448.0 603.2,451.2 612.0,455.0 C620.8,458.8 632.0,464.2 635.0,468.0 C638.0,471.8 633.8,474.7 630.0,478.0 C626.2,481.3 617.3,485.0 612.0,488.0 C606.7,491.0 603.3,494.0 598.0,496.0 C592.7,498.0 585.5,498.5 580.0,500.0 C574.5,501.5 569.7,502.5 565.0,505.0 C560.3,507.5 554.8,510.0 552.0,515.0 C549.2,520.0 550.0,527.5 548.0,535.0 C546.0,542.5 543.0,552.8 540.0,560.0 C537.0,567.2 532.3,571.3 530.0,578.0 C527.7,584.7 527.7,593.0 526.0,600.0 C524.3,607.0 522.7,614.2 520.0,620.0 C517.3,625.8 514.2,630.8 510.0,635.0 C505.8,639.2 500.8,642.5 495.0,645.0 C489.2,647.5 481.7,650.0 475.0,650.0 C468.3,650.0 460.8,648.3 455.0,645.0 C449.2,641.7 443.8,635.5 440.0,630.0 C436.2,624.5 436.2,616.5 432.0,612.0 C427.8,607.5 422.0,605.5 415.0,603.0 C408.0,600.5 400.8,598.5 390.0,597.0 C379.2,595.5 361.7,594.0 350.0,594.0 C338.3,594.0 328.3,595.3 320.0,597.0 C311.7,598.7 305.8,601.5 300.0,604.0 C294.2,606.5 290.3,609.3 285.0,612.0 C279.7,614.7 273.5,620.2 268.0,620.0 C262.5,619.8 255.7,616.0 252.0,611.0 C248.3,606.0 246.0,596.3 246.0,590.0 C246.0,583.7 247.2,577.8 252.0,573.0 C256.8,568.2 268.2,565.3 275.0,561.0 C281.8,556.7 292.0,552.3 293.0,547.0 C294.0,541.7 287.8,532.3 281.0,529.0 C274.2,525.7 255.2,531.8 252.0,527.0 C248.8,522.2 256.5,507.5 262.0,500.0 C267.5,492.5 285.0,487.3 285.0,482.0 C285.0,476.7 272.2,472.0 262.0,468.0 C251.8,464.0 230.3,461.7 224.0,458.0 C217.7,454.3 218.0,448.5 224.0,446.0 Z"/>
<path fill="#a0d834" d="M230.0,446.0 C234.7,444.3 250.0,444.8 260.0,445.0 C270.0,445.2 283.3,445.8 290.0,447.0 C296.7,448.2 300.0,450.2 300.0,452.0 C300.0,453.8 297.5,457.0 290.0,458.0 C282.5,459.0 264.7,458.5 255.0,458.0 C245.3,457.5 236.2,457.0 232.0,455.0 C227.8,453.0 225.3,447.7 230.0,446.0 Z M292.0,540.0 C296.2,536.2 307.8,534.2 315.0,535.0 C322.2,535.8 331.2,540.0 335.0,545.0 C338.8,550.0 339.7,560.0 338.0,565.0 C336.3,570.0 331.3,573.8 325.0,575.0 C318.7,576.2 305.8,574.8 300.0,572.0 C294.2,569.2 291.3,563.3 290.0,558.0 C288.7,552.7 287.8,543.8 292.0,540.0 Z M470.0,512.0 C473.0,507.5 482.7,507.3 488.0,508.0 C493.3,508.7 499.2,512.0 502.0,516.0 C504.8,520.0 506.0,527.0 505.0,532.0 C504.0,537.0 500.2,543.3 496.0,546.0 C491.8,548.7 484.3,549.8 480.0,548.0 C475.7,546.2 471.7,541.0 470.0,535.0 C468.3,529.0 467.0,516.5 470.0,512.0 Z M250.0,565.0 C254.5,562.0 267.0,560.3 275.0,562.0 C283.0,563.7 293.8,569.5 298.0,575.0 C302.2,580.5 303.0,590.5 300.0,595.0 C297.0,599.5 287.0,601.8 280.0,602.0 C273.0,602.2 263.3,599.7 258.0,596.0 C252.7,592.3 249.3,585.2 248.0,580.0 C246.7,574.8 245.5,568.0 250.0,565.0 Z M380.0,440.0 C387.5,438.7 415.0,438.8 430.0,439.0 C445.0,439.2 458.3,440.8 470.0,441.0 C481.7,441.2 488.3,440.0 500.0,440.0 C511.7,440.0 530.0,440.0 540.0,441.0 C550.0,442.0 560.0,444.5 560.0,446.0 C560.0,447.5 555.0,449.5 540.0,450.0 C525.0,450.5 490.0,449.0 470.0,449.0 C450.0,449.0 434.2,450.3 420.0,450.0 C405.8,449.7 391.7,448.7 385.0,447.0 C378.3,445.3 372.5,441.3 380.0,440.0 Z M510.0,540.0 C511.7,536.3 520.8,536.7 525.0,538.0 C529.2,539.3 534.2,544.3 535.0,548.0 C535.8,551.7 533.3,558.0 530.0,560.0 C526.7,562.0 518.3,563.3 515.0,560.0 C511.7,556.7 508.3,543.7 510.0,540.0 Z"/>
<path fill="#c0fcc4" d="M528.0,521.0 C529.2,518.3 536.5,517.5 540.0,518.0 C543.5,518.5 548.0,521.5 549.0,524.0 C550.0,526.5 548.7,531.3 546.0,533.0 C543.3,534.7 536.0,536.0 533.0,534.0 C530.0,532.0 526.8,523.7 528.0,521.0 Z"/>
<path fill="#aae0b0" d="M362.0,430.0 C367.7,427.2 389.5,430.7 400.0,431.0 C410.5,431.3 418.0,431.7 425.0,432.0 C432.0,432.3 438.5,431.7 442.0,433.0 C445.5,434.3 448.8,437.8 446.0,440.0 C443.2,442.2 432.7,444.0 425.0,446.0 C417.3,448.0 407.5,450.5 400.0,452.0 C392.5,453.5 385.7,455.7 380.0,455.0 C374.3,454.3 369.0,452.2 366.0,448.0 C363.0,443.8 356.3,432.8 362.0,430.0 Z"/>
<path fill="#c0fcc4" d="M372.0,433.0 C375.5,431.7 387.8,433.5 395.0,434.0 C402.2,434.5 413.3,434.5 415.0,436.0 C416.7,437.5 410.0,441.2 405.0,443.0 C400.0,444.8 390.2,447.2 385.0,447.0 C379.8,446.8 376.2,444.3 374.0,442.0 C371.8,439.7 368.5,434.3 372.0,433.0 Z"/>
<path fill="#fefb9e" d="M285.0,440.0 C287.3,437.8 294.2,437.0 300.0,437.0 C305.8,437.0 314.3,437.5 320.0,440.0 C325.7,442.5 332.3,448.2 334.0,452.0 C335.7,455.8 333.7,461.0 330.0,463.0 C326.3,465.0 317.8,464.8 312.0,464.0 C306.2,463.2 299.3,460.3 295.0,458.0 C290.7,455.7 287.7,453.0 286.0,450.0 C284.3,447.0 282.7,442.2 285.0,440.0 Z M468.4,451.3 C472.2,449.2 482.1,446.6 491.3,445.4 C500.6,444.2 514.1,443.9 523.9,444.1 C533.7,444.3 541.2,444.9 549.9,446.4 C558.6,447.9 568.4,450.5 576.0,452.9 C583.6,455.3 590.7,458.3 595.6,461.0 C600.5,463.7 604.8,466.5 605.3,469.2 C605.8,471.9 602.6,474.9 598.8,477.3 C595.0,479.8 588.5,482.5 582.5,483.9 C576.5,485.3 570.6,485.8 563.0,485.5 C555.4,485.2 544.5,481.9 536.9,482.2 C529.3,482.5 522.7,485.7 517.3,487.1 C511.9,488.5 509.2,490.9 504.3,490.4 C499.4,489.9 492.4,487.2 488.0,483.9 C483.6,480.6 481.5,475.1 478.2,470.8 C474.9,466.5 470.0,461.1 468.4,457.8 C466.8,454.6 464.6,453.4 468.4,451.3 Z M583.0,466.0 C584.3,463.8 591.8,463.3 595.0,464.0 C598.2,464.7 601.5,467.8 602.0,470.0 C602.5,472.2 600.5,475.8 598.0,477.0 C595.5,478.2 589.5,478.8 587.0,477.0 C584.5,475.2 581.7,468.2 583.0,466.0 Z M348.9,492.8 C354.3,489.5 363.5,487.1 371.7,486.3 C379.9,485.5 390.2,486.3 397.8,487.9 C405.4,489.5 411.9,492.6 417.3,496.1 C422.7,499.6 425.5,504.8 430.4,509.1 C435.3,513.5 441.3,517.9 446.7,522.2 C452.1,526.6 457.6,530.3 463.0,535.2 C468.4,540.1 475.0,546.6 479.3,551.5 C483.6,556.4 485.2,560.7 489.0,564.5 C492.8,568.3 497.8,569.9 502.1,574.3 C506.5,578.6 511.9,585.2 515.1,590.6 C518.4,596.0 521.1,602.0 521.6,606.9 C522.1,611.8 519.8,616.5 518.4,619.9 C517.0,623.2 515.6,624.3 513.0,627.0 C510.4,629.7 505.9,633.7 502.9,636.0 C499.9,638.3 497.8,639.6 495.2,641.0 C492.6,642.4 491.4,644.8 487.6,644.5 C483.8,644.2 476.5,641.1 472.2,639.4 C467.9,637.7 466.3,636.0 462.0,634.3 C457.7,632.6 451.7,631.7 446.6,629.1 C441.5,626.5 436.1,622.9 431.2,618.9 C426.3,614.9 420.7,608.0 417.3,605.0 C413.9,602.0 413.9,603.4 410.7,601.0 C407.4,598.6 403.2,592.9 397.8,590.6 C392.4,588.3 384.7,587.3 378.2,587.3 C371.7,587.3 365.2,589.0 358.7,590.6 C352.2,592.2 345.6,595.5 339.1,597.1 C332.6,598.7 325.0,600.9 319.6,600.4 C314.2,599.9 308.7,597.2 306.5,593.9 C304.3,590.6 304.3,584.6 306.5,580.8 C308.7,577.0 315.2,573.7 319.6,571.0 C324.0,568.3 329.4,567.2 332.6,564.5 C335.9,561.8 339.7,558.0 339.1,554.7 C338.6,551.5 332.0,548.2 329.3,545.0 C326.6,541.8 322.8,539.0 322.8,535.2 C322.8,531.4 326.6,527.1 329.3,522.2 C332.0,517.3 335.8,510.8 339.1,505.9 C342.4,501.0 343.5,496.1 348.9,492.8 Z M358.0,830.0 C358.5,827.2 360.0,825.3 362.0,824.0 C364.0,822.7 367.2,821.7 370.0,822.0 C372.8,822.3 377.2,823.7 379.0,826.0 C380.8,828.3 381.5,832.8 381.0,836.0 C380.5,839.2 378.3,843.3 376.0,845.0 C373.7,846.7 369.8,846.7 367.0,846.0 C364.2,845.3 360.5,843.7 359.0,841.0 C357.5,838.3 357.5,832.8 358.0,830.0 Z"/>
<path fill="#fcf644" d="M292.0,439.0 C293.5,436.5 300.7,436.5 305.0,437.0 C309.3,437.5 315.2,439.5 318.0,442.0 C320.8,444.5 322.0,449.0 322.0,452.0 C322.0,455.0 320.8,458.7 318.0,460.0 C315.2,461.3 308.7,461.3 305.0,460.0 C301.3,458.7 298.2,455.5 296.0,452.0 C293.8,448.5 290.5,441.5 292.0,439.0 Z M475.0,452.9 C478.5,451.0 488.6,448.9 497.8,448.0 C507.0,447.1 520.6,446.8 530.4,447.4 C540.2,447.9 549.5,449.6 556.5,451.3 C563.5,453.0 569.2,455.1 572.7,457.8 C576.2,460.5 577.6,464.1 577.6,467.6 C577.6,471.1 576.8,476.6 572.7,479.0 C568.6,481.4 560.2,482.5 553.2,482.2 C546.2,481.9 538.5,478.4 530.4,477.3 C522.2,476.2 511.9,477.1 504.3,475.7 C496.7,474.3 489.3,471.9 484.7,469.2 C480.1,466.5 478.2,462.1 476.6,459.4 C475.0,456.7 471.5,454.8 475.0,452.9 Z M358.7,496.1 C362.5,492.6 370.6,491.5 378.2,491.2 C385.8,490.9 397.2,491.9 404.3,494.4 C411.4,496.8 415.7,501.3 420.6,505.9 C425.5,510.5 429.2,517.3 433.6,522.2 C438.0,527.1 441.8,530.9 446.7,535.2 C451.6,539.5 458.1,543.9 463.0,548.2 C467.9,552.6 471.1,557.5 476.0,561.3 C480.9,565.1 487.4,567.2 492.3,571.0 C497.2,574.8 502.0,579.2 505.3,584.1 C508.6,589.0 511.3,595.5 511.9,600.4 C512.4,605.3 511.3,610.1 508.6,613.4 C505.9,616.6 501.0,618.3 495.6,619.9 C490.2,621.5 482.5,623.2 476.0,623.2 C469.5,623.2 462.5,622.6 456.5,619.9 C450.5,617.2 445.6,611.8 440.2,606.9 C434.8,602.0 431.0,595.0 423.9,590.6 C416.8,586.2 406.5,583.5 397.8,580.8 C389.1,578.1 378.8,576.5 371.7,574.3 C364.6,572.1 357.6,571.1 355.4,567.8 C353.2,564.5 359.2,559.1 358.7,554.7 C358.2,550.4 351.7,546.0 352.2,541.7 C352.7,537.4 361.4,533.6 361.9,528.7 C362.4,523.8 355.9,517.8 355.4,512.4 C354.9,507.0 354.9,499.6 358.7,496.1 Z"/>
<path fill="#fdc834" d="M484.7,456.2 C488.0,454.0 498.9,452.1 507.6,451.3 C516.3,450.5 528.2,450.5 536.9,451.3 C545.6,452.1 554.3,454.0 559.7,456.2 C565.1,458.4 568.1,461.3 569.5,464.3 C570.9,467.3 570.6,471.7 567.9,474.1 C565.2,476.6 559.5,479.0 553.2,479.0 C547.0,479.0 538.5,475.5 530.4,474.1 C522.2,472.7 511.4,472.4 504.3,470.8 C497.2,469.2 491.3,466.7 488.0,464.3 C484.7,461.9 481.4,458.4 484.7,456.2 Z M365.2,496.1 C369.6,492.6 383.7,490.7 391.3,491.2 C398.9,491.7 405.4,495.8 410.8,499.3 C416.2,502.8 420.6,507.5 423.9,512.4 C427.2,517.3 430.4,524.4 430.4,528.7 C430.4,533.0 428.2,536.5 423.9,538.4 C419.5,540.3 410.8,540.1 404.3,540.1 C397.8,540.1 389.6,540.3 384.7,538.4 C379.8,536.5 378.2,533.0 375.0,528.7 C371.8,524.4 366.8,517.8 365.2,512.4 C363.6,507.0 360.8,499.6 365.2,496.1 Z M365.2,548.2 C371.2,547.1 388.0,549.9 397.8,551.5 C407.6,553.1 416.3,555.8 423.9,558.0 C431.5,560.2 436.9,562.7 443.4,564.5 C449.9,566.3 456.9,567.1 463.0,569.0 C469.1,570.9 475.5,572.8 480.0,576.0 C484.5,579.2 488.0,583.5 490.0,588.0 C492.0,592.5 492.0,598.0 492.0,603.0 C492.0,608.0 492.0,614.2 490.0,618.0 C488.0,621.8 484.7,624.3 480.0,626.0 C475.3,627.7 466.7,628.7 462.0,628.0 C457.3,627.3 455.5,625.0 452.0,622.0 C448.5,619.0 444.3,614.0 441.0,610.0 C437.7,606.0 434.9,602.9 432.0,598.0 C429.1,593.1 429.6,585.8 423.9,580.8 C418.2,575.8 405.9,570.5 397.8,567.8 C389.7,565.1 381.0,566.1 375.0,564.5 C369.0,562.9 363.5,560.7 361.9,558.0 C360.3,555.3 359.2,549.3 365.2,548.2 Z M492.0,601.0 C494.0,598.5 499.5,597.7 503.0,598.0 C506.5,598.3 510.8,600.5 513.0,603.0 C515.2,605.5 516.5,610.0 516.0,613.0 C515.5,616.0 513.0,619.5 510.0,621.0 C507.0,622.5 501.2,623.3 498.0,622.0 C494.8,620.7 492.0,616.5 491.0,613.0 C490.0,609.5 490.0,603.5 492.0,601.0 Z M361.0,832.0 C361.7,830.0 363.3,827.2 365.0,826.0 C366.7,824.8 369.0,824.5 371.0,825.0 C373.0,825.5 375.8,827.0 377.0,829.0 C378.2,831.0 378.7,834.8 378.0,837.0 C377.3,839.2 375.0,841.2 373.0,842.0 C371.0,842.8 368.0,842.7 366.0,842.0 C364.0,841.3 361.8,839.7 361.0,838.0 C360.2,836.3 360.3,834.0 361.0,832.0 Z"/>
<path fill="#fcf644" d="M461.0,603.0 C462.2,601.5 465.8,599.8 468.0,600.0 C470.2,600.2 473.2,602.0 474.0,604.0 C474.8,606.0 474.3,610.3 473.0,612.0 C471.7,613.7 468.0,614.5 466.0,614.0 C464.0,613.5 461.8,610.8 461.0,609.0 C460.2,607.2 459.8,604.5 461.0,603.0 Z"/>
<path fill="#feac80" d="M494.5,459.4 C497.8,457.9 506.5,455.2 514.1,454.5 C521.7,453.8 532.6,453.8 540.2,455.2 C547.8,456.6 555.6,460.1 559.7,462.7 C563.8,465.3 565.7,468.6 564.6,470.8 C563.5,473.0 558.9,475.7 553.2,475.7 C547.5,475.7 538.5,472.1 530.4,470.8 C522.2,469.5 510.3,468.8 504.3,467.6 C498.3,466.4 496.1,465.0 494.5,463.6 C492.9,462.2 491.2,460.9 494.5,459.4 Z M381.5,499.3 C385.9,498.2 398.9,499.9 404.3,502.6 C409.7,505.3 413.6,511.8 414.1,515.6 C414.7,519.4 412.5,524.3 407.6,525.4 C402.7,526.5 389.6,524.9 384.7,522.2 C379.8,519.5 378.7,512.9 378.2,509.1 C377.7,505.3 377.1,500.4 381.5,499.3 Z M427.1,567.8 C429.8,565.6 439.6,567.8 443.4,571.0 C447.2,574.2 449.3,581.9 449.9,587.3 C450.4,592.7 449.4,601.4 446.7,603.6 C444.0,605.8 436.9,603.6 433.6,600.4 C430.3,597.1 428.2,589.5 427.1,584.1 C426.0,578.7 424.4,570.0 427.1,567.8 Z M498.8,603.6 C501.0,602.0 509.7,604.7 511.9,606.9 C514.1,609.1 514.1,615.1 511.9,616.7 C509.7,618.3 501.0,618.9 498.8,616.7 C496.6,614.5 496.6,605.2 498.8,603.6 Z M363.0,833.0 C363.3,831.2 365.5,828.7 367.0,828.0 C368.5,827.3 370.8,827.8 372.0,829.0 C373.2,830.2 374.2,833.2 374.0,835.0 C373.8,836.8 372.5,839.3 371.0,840.0 C369.5,840.7 366.3,840.2 365.0,839.0 C363.7,837.8 362.7,834.8 363.0,833.0 Z"/>
</g>
<g fill="none" stroke-linejoin="round">
<path stroke="rgba(0,0,0,0.4)" stroke-width="0.9" d="M459.6,524.3 L478.2,529.9 L493.1,539.2 L504.3,550.4 M485.7,490.8 L500.6,488.9 L519.2,490.8 L534.1,492.6 L549.0,494.5 M493.1,461.0 L495.0,475.9 L504.3,481.5 L515.5,479.6 L526.7,483.3 L534.1,481.5 M486.1,667.4 L482.3,680.2 L483.5,686.6 L491.2,685.3 L501.5,682.7 L511.7,684.0 L516.8,684.0 M491.2,685.3 L496.3,696.8 L504.0,703.2 L511.7,701.9 L518.1,707.1 L521.9,712.2 M511.7,653.3 L514.3,645.6 L516.8,637.9 L521.9,630.2 L524.5,620.0 M459.2,632.8 L472.0,636.6 L474.6,641.8 M105.6,437.7 L104.4,456.0 M189.1,639.1 L197.3,635.9 L211.9,637.5 L225.0,637.5 L234.7,640.7 L244.5,644.0 L254.3,642.4 L262.4,640.7 M159.8,742.2 L179.3,742.2 L195.6,743.8 L208.7,748.7 L218.4,742.2 L231.5,742.2 L241.3,745.4 L249.4,747.0 M159.8,781.3 L169.6,781.3 L179.3,784.5 L184.2,792.7 L185.9,800.0 M218.4,795.9 L231.5,794.3 L244.5,792.7 L254.3,791.0 M218.9,778.9 L228.7,778.9 L238.4,775.6 L245.0,769.1 L249.9,767.5 M223.8,798.4 L238.4,795.2 L251.5,791.9 L261.3,791.9 M271.0,783.8 L284.1,780.5 L293.9,777.3 L297.1,765.9 L303.6,761.0 L310.0,762.0 M290.6,811.5 L297.1,798.4 L305.3,791.9 L311.0,790.0 M210.7,847.3 L214.0,857.1 L218.9,870.0 M271.0,853.9 L274.3,863.6 L267.8,870.0 M289.6,698.7 L302.6,699.0 L318.0,702.0 L330.0,700.0 L345.0,703.0 L358.0,705.2 M283.0,723.1 L292.8,721.5 L302.6,723.1 L310.7,721.5 L322.2,724.7 L331.9,726.4 L338.4,724.7 L341.7,718.2 L341.7,711.7 M318.9,734.5 L331.9,737.8 L338.4,731.3 L338.4,724.7 M358.0,693.8 L358.0,705.2 L356.4,713.3 L341.7,711.7 M345.9,838.3 L352.9,836.5 L363.3,834.8 L377.3,836.5 L387.8,834.8 M365.1,808.6 L366.8,817.3 L365.1,824.3 M387.8,824.3 L398.3,826.0 L412.2,827.8 L426.2,833.0 L436.7,838.3 M415.7,812.1 L422.7,806.8 L433.2,798.1 L440.0,796.0 M317.9,789.4 L328.4,789.4 L335.4,787.6 L342.4,782.4 L352.9,778.9 L359.8,773.7 L365.1,773.7 L372.1,764.9 L373.8,756.2 L376.0,748.0 M297.0,761.4 L307.5,761.4 L317.9,764.0 M290.0,780.6 L300.5,778.9 L311.0,782.4 L317.9,782.0 M140.9,406.2 L143.7,416.0 L142.3,425.7 L140.9,435.5 M106.0,438.3 L119.9,435.5 L133.9,436.2 L140.9,435.5 M115.7,462.1 L117.1,473.2 L119.9,485.8 L124.1,495.6 L132.5,498.4 M160.4,413.2 L168.8,420.1 L180.0,422.9 L188.4,425.7 M150.7,463.5 L157.6,462.1 L166.0,467.6 L175.8,470.4 L182.8,473.2 M131.1,476.0 L140.9,481.6 L152.1,481.6 L157.6,490.0 L168.8,495.6 L175.8,501.2 L180.0,509.6 M201.0,465.1 L214.9,467.9 L224.7,470.7 L226.1,481.9 L223.3,495.9 M235.9,473.5 L249.9,474.9 L269.4,473.5 L286.2,474.9 M369.4,440.3 L378.8,437.2 L385.0,442.0 L391.3,451.3 L394.4,460.6 L397.5,470.0 L403.8,476.3 M353.8,529.4 L360.0,535.6 L363.1,545.0 M473.8,569.8 L477.0,581.2 L488.4,595.9 L491.7,602.4 M283.5,636.4 L264.9,638.2 L250.0,642.0 M430.0,650.0 L445.0,660.0 L460.0,672.0 L470.0,690.0 M490.0,690.0 L505.0,700.0 L520.0,705.0 M560.0,490.0 L575.0,495.0 L590.0,500.0 M610.0,520.0 L625.0,525.0 L640.0,530.0 L655.0,522.0 M575.0,545.0 L590.0,555.0 L600.0,560.0"/>
<path stroke="rgba(0,0,0,0.62)" stroke-width="1.25" d="M163.2,399.2 L161.1,409.0 L157.6,417.4 L152.1,425.7 L150.0,434.1 L149.3,443.9 L148.6,455.1 L147.2,459.3 M94.8,459.3 L106.0,457.9 L115.7,460.0 L126.9,457.2 L138.1,455.8 L147.2,457.9 M147.2,459.3 L150.7,467.6 L149.3,474.6 L140.9,475.3 L131.1,476.0 L128.3,480.2 L131.1,490.0 L132.5,498.4 L131.1,506.8 M149.3,474.6 L157.6,478.8 L163.2,484.4 L171.6,487.2 L180.0,490.0 L182.8,491.4 M192.6,416.0 L188.4,425.7 L189.8,434.1 L196.8,439.7 L194.0,448.1 L192.6,455.1 L194.0,462.1 L191.2,470.4 L188.4,478.8 L182.8,491.4 M131.1,506.8 L133.9,515.1 L143.7,517.9 L157.6,516.5 L168.8,517.9 L180.0,515.1 L182.8,509.6 L185.6,501.2 L184.2,492.8 L182.8,491.4 M99.0,513.7 L112.9,506.8 L124.1,501.2 L131.1,506.8 M182.8,491.4 L189.8,484.4 L196.8,485.8 L199.6,486.1 L201.0,495.9 L198.2,501.5 M198.2,455.4 L207.9,454.0 L219.1,449.8 L228.9,448.4 L238.7,449.8 L247.1,453.3 L258.2,451.2 L270.8,448.4 L283.4,444.2 L291.8,441.4 L300.6,440.3 L308.4,448.1 L316.3,454.4 L322.5,460.6 L331.9,463.8 L338.1,460.6 L336.6,454.4 L344.4,448.1 L353.8,443.4 L358.4,437.2 M291.8,452.6 L289.0,461.0 L288.3,474.9 L287.6,486.1 L286.2,493.1 L283.4,498.7 L284.8,509.8 L286.2,521.0 L291.8,523.8 L294.4,526.3 L308.4,529.4 L316.3,534.1 L327.2,529.4 M188.4,514.0 L198.2,501.5 L207.9,500.1 L221.9,502.9 L235.9,505.7 L247.1,507.1 L255.4,509.8 L262.4,514.0 L266.6,504.3 L269.4,498.7 L283.4,498.7 M266.6,504.3 L269.4,518.2 L266.6,530.8 L269.4,544.8 L268.0,558.7 L269.4,568.5 M209.3,560.1 L221.9,562.9 L235.9,565.7 L249.9,567.1 L263.8,568.5 L269.4,568.5 L275.6,571.0 L295.1,572.6 L308.2,577.5 M198.2,455.4 L198.2,463.7 L191.2,472.1 L188.4,479.1 L182.0,481.0 M319.4,471.6 L317.8,485.6 L316.3,491.9 L320.9,504.4 L327.2,513.8 L330.3,521.6 L328.8,529.4 L331.9,541.9 L328.8,552.8 L324.1,560.6 L322.5,570.0 M374.1,471.6 L372.5,482.5 L375.6,491.9 L374.1,501.3 L378.8,509.1 L381.9,513.8 L378.8,523.1 L372.5,526.3 L366.3,529.4 L363.1,532.5 L355.3,545.0 M358.4,437.2 L366.3,445.0 L369.4,451.3 L372.5,460.6 L374.1,471.6 M327.2,529.4 L335.0,545.0 L344.4,549.7 L355.3,545.0 L366.3,548.1 L378.8,552.8 L391.3,554.4 L405.0,554.4 M285.0,560.6 L294.4,557.5 L303.8,554.4 L313.1,551.3 L322.5,549.7 L335.0,545.0 M336.6,557.5 L339.7,566.9 L347.5,571.6 L353.8,576.3 M275.6,571.0 L272.3,590.6 L262.5,606.9 L256.0,623.2 M295.1,572.6 L301.6,590.6 L308.2,603.6 L316.3,608.2 M188.4,514.0 L191.2,518.2 L209.3,518.2 L212.1,526.6 L217.7,535.0 L224.7,543.4 L221.9,551.8 L209.3,560.1 L198.2,565.7 L189.8,576.9 L190.2,592.6 L193.4,615.4 L183.6,628.4 L186.9,644.7 L183.6,657.8 L157.6,661.0 L160.8,677.3 L173.9,683.9 L170.6,696.9 L173.9,713.2 L167.3,726.2 L160.8,742.5 L170.6,755.6 L173.9,768.6 L164.1,781.6 L163.0,800.0 L165.0,815.0 L168.0,824.5 M181.0,631.0 L189.1,624.4 L198.9,624.4 L207.0,619.6 L215.2,616.3 L221.7,614.7 L228.2,619.6 L234.7,624.4 L244.5,627.7 L254.3,631.0 L262.4,632.6 L269.0,637.5 L280.4,637.5 L290.0,632.6 L300.0,634.0 L316.3,625.0 L330.0,628.4 M187.5,648.9 L192.4,655.4 L203.8,657.0 L215.2,658.7 L223.3,660.3 L229.9,661.9 L238.0,666.8 L241.3,675.0 L238.0,684.7 L229.9,688.0 L221.7,692.9 L215.2,697.8 L203.8,697.8 L194.0,694.5 L189.1,686.4 L179.3,681.5 L174.4,681.5 M262.4,632.6 L262.4,648.9 L264.1,653.8 L270.6,661.9 L273.9,671.7 L278.7,681.5 L283.6,684.7 L290.0,684.7 M215.2,697.8 L220.1,702.7 L226.6,705.9 L236.4,702.7 L244.5,701.0 L254.3,697.8 L264.1,691.3 L273.9,688.0 L278.7,681.5 M190.7,690.0 L198.9,694.9 L211.9,696.5 L218.4,703.0 L228.2,701.4 L239.6,699.8 L251.0,696.5 M251.0,696.5 L254.3,706.3 L257.6,712.8 L267.3,716.1 L275.5,722.6 L278.7,729.1 L290.0,734.0 M179.3,738.9 L185.9,727.5 L198.9,724.2 L211.9,722.6 L221.7,719.3 L228.2,722.6 L234.7,724.2 L244.5,719.3 L251.0,714.4 M249.4,747.0 L260.8,738.9 L270.6,730.7 L278.7,729.1 M249.4,747.0 L251.0,758.4 L247.8,766.6 L251.0,771.5 L255.9,781.3 L260.8,791.0 L264.1,797.6 M172.8,760.1 L182.6,763.3 L192.4,768.2 L202.2,771.5 L211.9,773.1 L220.1,776.4 L228.2,773.1 L236.4,765.0 L244.5,766.6 L251.0,771.5 M282.0,684.7 L285.3,691.3 L280.4,697.8 L278.7,704.3 L280.4,714.1 M270.0,667.7 L283.0,664.4 L294.4,661.2 L310.7,659.6 L323.8,656.3 L335.2,653.0 L340.1,649.8 L346.6,644.9 L351.5,641.6 M294.4,682.4 L302.6,675.9 L312.4,677.5 L322.2,674.2 L328.7,675.9 L327.0,682.4 L325.4,687.3 L331.9,690.5 L338.4,692.2 L346.6,690.5 L354.7,688.9 L362.9,684.0 L371.0,680.7 L380.8,679.1 L387.3,680.7 M375.9,649.8 L380.8,661.2 L385.7,671.0 L387.3,680.7 L393.9,685.6 L400.4,688.9 L410.0,690.5 L431.3,686.9 L449.5,683.8 L458.6,677.8 L467.7,683.8 L473.7,692.9 M387.3,680.7 L392.2,688.9 L393.9,698.7 L390.6,708.4 L392.2,718.2 L398.7,726.4 L397.1,737.8 L393.9,744.3 L401.8,730.0 M270.0,728.0 L283.0,731.3 L294.4,737.8 L305.9,745.9 L318.9,750.8 L331.9,750.8 L345.0,747.6 L358.0,745.9 L371.0,744.3 L384.1,744.3 L393.9,744.3 M279.8,718.2 L276.5,724.7 L270.0,728.0 M283.6,684.7 L289.6,698.7 L286.3,708.4 L283.0,718.2 L279.8,718.2 M458.6,677.8 L461.6,662.6 L467.7,650.5 L473.7,635.4 L467.7,620.3 M473.7,692.9 L479.8,711.1 L485.8,723.2 L473.7,735.3 L461.6,744.4 L449.5,753.4 L431.3,756.5 L413.2,762.5 L407.1,756.5 M485.8,723.2 L504.0,717.1 L519.1,714.1 L534.2,711.1 M473.7,735.3 L479.8,753.4 L488.8,771.6 L497.9,783.7 L500.0,792.0 M473.7,635.4 L491.9,638.4 L510.0,635.4 L522.1,629.3 M170.0,741.4 L186.3,743.0 L202.6,746.3 L210.7,749.6 L217.3,743.0 L227.0,741.4 L235.2,744.7 L245.0,747.9 L249.9,746.3 L256.4,739.8 L264.5,734.9 L271.0,730.0 M280.8,730.0 L287.3,734.9 L297.1,739.8 L305.3,746.3 L311.0,750.0 L317.9,751.0 M170.0,759.3 L183.0,761.0 L191.2,767.5 L199.3,772.4 L209.1,775.6 L217.3,777.3 M217.3,777.3 L218.9,785.4 L217.3,790.3 L209.1,791.9 L199.3,795.2 L201.0,800.1 L205.9,805.0 L209.1,814.7 L207.5,827.8 L205.9,840.8 L205.9,850.6 L204.2,853.9 M249.9,746.3 L251.5,754.4 L249.9,767.5 L254.7,777.3 L259.6,787.0 L262.9,793.6 L271.0,796.8 L277.6,798.4 L282.4,808.2 L287.3,818.0 L293.9,824.5 M204.2,853.9 L210.7,847.3 L218.9,847.3 L228.7,845.7 L238.4,844.1 L245.0,842.4 L251.5,840.8 L258.0,839.2 L264.5,835.9 L274.3,831.0 L284.1,827.8 L293.9,824.5 M293.9,824.5 L293.9,831.0 L284.1,837.6 L276.0,845.0 L268.0,855.0 L262.0,866.0 L256.0,880.0 L256.0,897.0 M293.9,824.5 L303.6,826.2 L311.0,819.1 L321.4,813.8 L331.9,817.3 M317.9,751.0 L319.7,764.9 L317.9,778.9 L317.9,789.4 L323.2,799.8 L328.4,810.3 L331.9,817.3 M331.9,817.3 L342.4,813.8 L352.9,808.6 L359.8,803.3 L370.3,801.6 L380.8,799.8 L387.8,794.6 L393.0,784.1 L398.3,775.4 L405.2,771.9 L415.7,771.9 L419.2,761.4 L426.2,752.7 L433.2,744.0 L440.0,740.5 M401.8,730.0 L405.2,740.5 L408.7,751.0 L410.5,761.4 L408.7,770.2 M419.2,775.4 L419.2,789.4 L417.5,803.3 L410.5,812.1 L403.5,820.8 L394.8,827.8 L387.8,834.8 L384.3,845.2 L380.8,855.7 L378.0,860.0 M331.9,817.3 L328.4,827.8 L324.9,838.3 L330.2,848.7 L338.9,855.7 L345.9,860.0 M440.0,740.5 L449.5,753.4 L455.5,771.6 L449.5,790.0 L440.0,805.0 L436.0,820.0 L430.0,835.0 L436.0,850.0 L437.0,854.0 M400.0,741.5 L411.2,750.8 L414.9,773.1 L424.2,776.9 L435.4,782.4 M435.4,782.4 L437.3,799.2 L444.7,810.4 L455.9,814.1 M330.0,424.7 L349.6,423.0 L362.6,436.1 L375.6,429.6 M378.9,426.3 L395.2,432.8 L411.5,436.1 L434.3,432.8 L440.8,425.0 M362.6,436.1 L362.6,452.4 L372.4,471.9 L395.2,481.7 L414.7,475.2 L427.8,485.0 L437.6,498.0 L440.8,501.3 M400.0,431.2 L418.6,427.4 L433.5,431.2 L441.0,423.7 M433.5,431.2 L427.9,442.4 L418.6,451.7 L411.2,457.3 L411.2,468.4 L405.6,479.6 L400.0,481.5 M480.1,453.5 L476.4,464.7 L468.9,470.3 L461.5,477.7 L455.9,490.8 L454.0,502.0 L457.7,513.1 L467.1,516.9 L476.4,515.0 L482.0,507.5 L483.8,494.5 L480.1,487.1 L482.0,475.9 L478.2,466.6 L480.1,453.5 M400.0,481.5 L411.2,483.3 L424.2,488.9 L433.5,494.5 L439.1,502.0 L433.5,507.5 L437.3,513.1 L448.4,516.9 L457.7,513.1 M375.6,485.0 L378.9,491.5 L395.2,498.0 L414.7,504.5 L437.6,507.8 L453.9,507.8 M372.4,471.9 L375.6,485.0 L378.9,507.8 L372.4,527.3 L359.3,543.6 L352.8,556.7 L348.0,568.0 M400.0,502.0 L414.9,507.5 L427.9,509.4 L437.3,515.0 L433.5,528.0 L429.8,539.2 L424.2,550.4 L418.6,560.0 L427.8,566.5 M482.0,507.5 L489.4,513.1 L500.6,520.6 L508.0,531.8 L515.5,539.2 L526.7,546.7 L537.8,550.4 L545.3,554.1 M441.0,423.7 L446.6,433.0 L450.3,434.9 L450.3,444.2 L455.9,446.1 L468.9,449.8 L480.1,453.5 L493.1,459.1 L504.3,457.3 L515.5,464.7 L530.4,464.7 L545.3,464.7 L549.7,463.6 L559.6,454.7 L567.5,459.7 L577.4,461.7 L585.3,465.6 L597.2,465.6 L601.1,469.6 L607.1,475.5 L619.0,477.5 L630.8,477.5 L642.7,473.5 L654.6,467.6 L662.5,467.6 M549.7,463.6 L551.7,473.5 L553.6,485.4 L552.7,497.3 L551.7,509.2 L545.7,521.0 L541.8,532.9 L539.8,544.8 L539.8,556.7 L531.9,570.0 M427.8,566.5 L450.6,563.2 L473.4,556.7 L493.0,553.4 L512.5,563.2 L525.6,566.5 L538.6,563.2 M348.0,568.0 L372.4,566.5 L395.2,569.7 L411.5,573.0 L427.8,566.5 M538.6,563.2 L535.3,579.5 L532.1,592.5 M427.8,566.5 L433.0,580.0 L440.0,592.0 L446.1,600.0 M603.1,477.5 L601.1,489.4 L601.1,499.3 L599.2,509.2 L593.2,517.1 L589.3,525.0 L591.2,536.9 L597.2,546.8 L603.1,554.7 M646.7,473.5 L642.7,481.5 L636.8,489.4 L630.8,495.3 L632.8,505.2 L634.8,513.1 L646.7,515.1 L658.5,513.1 L666.4,509.2 M589.3,525.0 L579.4,529.0 L569.5,536.9 L559.6,544.8 L549.7,548.7 L539.8,556.7 M531.9,570.0 L540.0,585.0 L552.0,593.0 M283.5,636.4 L300.3,630.8 L313.3,628.9 L328.2,625.2 L337.5,621.5 L354.3,621.5 L369.2,619.6 L376.7,627.0 L378.5,634.5 M250.0,656.9 L268.6,658.7 L287.3,660.6 L305.9,660.6 L328.2,656.9 L337.5,647.5 L348.7,640.1 L361.8,638.2 L374.8,640.1 M358.0,560.0 L356.2,574.9 L358.0,597.3 L361.8,602.8 L369.2,612.2 L372.9,621.5 L376.7,634.5 L374.8,645.7 L380.4,656.9 L386.0,671.8 L391.6,686.7 M263.0,628.9 L264.9,649.4 L261.2,660.6 M276.1,574.9 L277.9,593.5 L268.6,606.6 L257.5,610.3 M296.6,569.3 L302.2,584.2 L311.5,597.3 L317.1,604.7 L313.3,617.7 L305.9,628.9 M400.0,687.5 L414.9,693.0 L429.8,687.5 L455.9,680.0 M440.0,689.1 L447.7,685.3 L456.6,681.5 L465.6,685.3 L473.3,687.9 L474.6,696.8 L470.7,704.5 L475.9,709.6 L484.8,712.2 L488.7,719.9 L487.5,724.7 M487.5,724.7 L497.0,722.5 L506.6,721.2 L511.7,717.3 L521.9,714.8 L532.2,713.5 L542.4,714.8 L547.6,719.9 M487.5,724.7 L483.8,732.2 L483.8,747.1 L485.7,758.2 L489.4,769.4 L498.7,780.6 M461.5,724.7 L459.6,739.6 L461.5,748.9 L474.5,750.8 L483.8,747.1 M461.5,724.7 L474.5,722.8 L482.0,728.4 M452.2,752.6 L455.9,763.8 L454.0,780.6 L465.2,784.3 L474.5,782.4 L480.1,788.0 M435.4,782.4 L437.3,799.2 L444.7,810.4 L455.9,814.1 M400.0,741.5 L411.2,750.8 L414.9,773.1 L424.2,776.9 L435.4,782.4 M433.5,756.4 L422.4,767.5 L416.8,775.0 M437.3,724.7 L441.0,735.9 L446.6,748.9 L452.2,752.6 M420.5,784.3 L418.6,799.2 L411.2,814.1 M508.0,599.0 L512.9,605.6 L511.3,615.4 L504.7,621.9 L499.9,630.0 L493.3,638.2 L490.0,644.7 L495.0,651.3 M457.5,631.7 L459.1,639.9 L472.2,641.5 L485.2,644.7 M420.0,602.4 L436.3,612.2 L446.1,618.7 L457.5,631.7 M446.1,574.7 L451.0,586.1 L444.4,604.0 L446.1,618.7 M511.3,592.6 L519.4,591.0 L527.6,592.6 L534.1,592.6 L540.6,597.5 L550.4,600.7 M491.2,652.0 L498.9,655.9 L506.6,654.6 L514.3,653.3 L520.7,657.1 M488.7,643.0 L495.1,636.6 L501.5,627.7 L506.6,623.8 L509.1,620.0 M475.9,632.8 L484.8,635.4 L488.7,643.0 L491.2,652.0 M470.7,643.0 L469.4,653.3 L465.6,661.0 L460.5,664.8 L456.6,671.2 L456.6,678.9 L457.9,682.7 M420.0,690.4 L429.8,687.1 L455.9,682.2"/>
</g>
<g fill="none" stroke="#000" stroke-opacity="0.78" stroke-width="1.3" stroke-linejoin="round"><path d="M455.5,345.0 L453.0,366.0 L450.4,391.8 L447.9,412.3 L441.5,422.6 L431.0,429.0 L418.4,431.5 L405.6,432.3 L392.8,427.7 L380.0,425.0 L377.2,426.0 L364.4,428.7 L354.0,424.8 L338.8,422.3 L323.4,426.0 L308.0,427.4 L295.2,426.0 L282.4,423.5 L269.6,418.4 L254.3,415.9 L247.9,410.7 L244.0,412.0 L218.4,414.6 L192.8,414.6 L180.0,412.0 L173.6,405.6 L164.2,398.7 L158.1,399.9 L153.3,399.9 L148.4,402.3 L145.9,406.0 L138.6,409.7 L133.7,412.1 L133.7,417.0 L137.4,419.4 L137.4,424.3 L132.5,421.9 L126.4,421.9 L120.3,424.3 L110.5,422.5 L105.6,425.5 L102.0,428.0 L94.7,431.6 L89.8,434.1 L87.3,439.0 L87.3,446.3 L89.8,448.7 L92.2,453.6 L93.4,457.3 L99.5,456.0 L102.0,458.5 L97.1,460.9 L94.7,465.8 L95.9,471.9 L102.0,473.1 L104.4,475.6 L102.0,478.0 L103.2,480.5 L109.3,480.5 L111.7,481.7 L104.4,485.4 L103.2,490.2 L111.7,486.6 L113.0,489.0 L104.4,492.7 L102.0,496.3 L100.8,502.4 L99.5,509.8 L99.5,517.1 L102.0,523.0 L103.0,546.5 L104.5,574.6 L102.9,580.0 L100.5,594.0 L95.9,612.6 L91.2,626.6 L84.2,642.9 L77.3,656.8 L67.9,668.5 L59.8,673.1 L58.6,680.1 L57.5,689.4 L54.0,701.0 L50.5,712.7 L51.6,717.4 L63.3,719.7 L63.3,722.0 L62.1,736.0 L74.9,736.0 L79.6,743.0 L80.7,757.0 L81.0,760.0 L78.4,772.8 L81.0,785.6 L78.4,798.4 L73.3,811.2 L66.9,829.1 L73.3,828.6 L91.2,825.3 L109.1,829.1 L123.2,836.8 L132.2,834.3 L145.0,827.1 L150.1,825.3 L168.0,824.5 L178.3,826.0 L188.5,831.7 L198.8,842.0 L205.2,852.2 L201.3,857.3 L203.9,867.6 L209.0,875.2 L214.1,882.9 L224.4,893.2 L237.2,903.4 L244.9,907.2 L250.2,905.0 L255.4,897.3 L263.0,887.1 L273.3,879.4 L291.2,874.3 L306.6,862.7 L322.0,861.0 L342.4,860.2 L362.9,861.5 L378.3,859.4 L393.6,860.2 L419.3,860.2 L429.5,857.6 L437.2,853.8 L442.3,841.0 L447.4,830.7 L452.5,823.0 L460.0,814.1 L464.9,805.7 L476.6,802.2 L488.2,801.1 L499.8,798.7 L503.3,796.4 L497.5,791.8 L496.4,787.1 L499.8,780.1 L502.2,773.1 L506.8,766.1 L511.5,759.2 L511.5,749.8 L516.1,742.9 L523.1,738.2 L532.4,731.2 L541.8,725.4 L547.6,719.6 L544.1,714.9 L534.8,711.4 L527.8,705.6 L523.1,698.6 L519.6,689.3 L517.5,682.0 L518.4,666.3 L524.2,647.6 L533.6,631.3 L542.9,617.4 L549.8,605.7 L554.5,599.9 L559.2,598.7 L563.8,594.1 L568.5,589.4 L563.8,585.9 L559.2,584.8 L566.1,575.5 L573.1,568.5 L584.8,561.5 L601.1,554.5 L619.7,545.2 L638.3,533.6 L652.3,520.7 L663.9,511.4 L670.9,505.6 L673.8,500.4 L672.7,491.1 L670.3,484.1 L672.7,478.3 L672.7,474.8 L668.0,470.1 L662.2,465.5 L658.7,460.8 L657.5,449.2 L656.4,435.2 L658.7,423.6 L664.5,415.4 L671.5,413.1 L678.5,407.3 L687.8,399.1 L694.8,393.3 L700.6,393.3 L704.1,396.8 L715.7,396.8 L725.0,399.1 L734.4,400.3 L741.3,397.9 L753.0,396.8 L760.0,403.8 L769.3,404.9 L780.0,407.3"/><path d="M455.5,345 L457,338.5 L461,337 L464,339.5 L462.5,343 L458,343.5"/><path d="M209.6,966.0 L219.3,939.3 L227.0,921.3 L234.6,917.5 L240.0,917.8 L244.9,915.0 L255.4,915.2 L259.2,920.4 L260.5,930.6 L268.2,943.4 L281.0,956.2 L296.3,963.9 L314.3,965.2 L329.6,961.3 L342.4,960.0 L360.4,961.3 L378.3,957.5 L386.0,951.0 L387.2,947.2 L391.1,956.2 L393.6,963.9 L403.9,967.7 L419.3,965.2 L432.0,969.0 L440.0,970.4 L451.6,966.9 L461.0,961.1 L469.1,954.1 L477.3,950.6 L481.9,946.0 L484.2,935.5 L493.6,927.3 L502.9,921.5 L512.2,923.4 L519.2,919.2 L523.8,911.0 L530.8,911.0 L534.3,915.0 L542.4,916.8 L549.4,913.3 L554.1,902.9 L558.7,895.9 L565.7,887.7 L575.0,881.9 L582.0,877.3 L591.3,872.6 L598.3,866.8 L607.6,863.3 L620.3,860.1 L636.6,857.0 L652.9,854.0 L664.5,850.0 L671.5,847.7 L676.1,850.0 L685.5,848.9 L692.4,844.2 L699.4,834.9 L704.1,832.6 L711.1,836.1 L715.7,831.4 L729.7,829.1 L739.0,825.6 L746.0,819.8 L757.6,818.6 L771.6,817.5 L780.0,816.3"/><path d="M649.8,655.2 L656.8,648.2 L666.1,641.2 L673.1,634.2 L680.1,628.4 L687.1,626.1 L684.8,630.7 L688.3,633.1 L689.4,637.7 L696.4,636.6 L702.2,638.9 L702.2,645.9 L698.7,652.9 L694.1,662.2 L688.3,670.3 L682.4,669.2 L673.1,664.5 L668.5,659.8 L659.2,657.5 L654.5,659.8 Z"/><path d="M717.4,617.9 L724.4,614.4 L733.7,613.3 L740.7,617.9 L744.1,624.9 L740.7,627.3 L731.3,623.8 L722.0,623.8 L717.4,620.3 Z"/><path d="M596.3,701.8 L601.0,693.6 L610.3,690.1 L614.9,692.4 L612.6,701.8 L605.6,708.7 L597.5,706.4 Z"/><path d="M607.0,715.0 L611.0,714.0 L613.0,717.0 L617.0,718.0 L616.0,721.0 L611.0,720.5 L608.0,721.5 Z"/></g>
<g fill="none" stroke="#000" stroke-opacity="0.45" stroke-width="0.9"><path d="M566,698 L577,730"/><path d="M653,652 Q664,650 678,655 Q684,657 690,661 M680,634 Q681,648 685,667 M687,644 L701,643"/></g><circle cx="682.4" cy="679.6" r="1.2" fill="#333"/><g fill="none" stroke="#111" stroke-width="1.8"><path d="M479.5,321 Q483.5,321.5 487,322.5 M483.5,321.5 L483.8,329"/></g>
<g fill="none" stroke="#000" stroke-opacity="0.36" stroke-width="2" stroke-dasharray="2 6.2">
<path d="M-232.2,994.5 L-218.2,996.9 L-204.3,999.2 L-190.3,1001.5 L-176.3,1003.8 L-162.3,1005.9 L-148.4,1008.0 L-134.4,1010.1 L-120.3,1012.1 L-106.3,1014.0 L-92.3,1015.9 L-78.3,1017.7 L-64.2,1019.4 L-50.2,1021.1 L-36.1,1022.8 L-22.1,1024.3 L-8.0,1025.8 L6.1,1027.3 L20.2,1028.6 L34.2,1030.0 L48.3,1031.2 L62.4,1032.4 L76.5,1033.6 L90.6,1034.6 L104.8,1035.6 L118.9,1036.6 L133.0,1037.5 L147.1,1038.3 L161.2,1039.1 L175.4,1039.8 L189.5,1040.4 L203.6,1041.0 L217.8,1041.5 L231.9,1042.0 L246.1,1042.4 L260.2,1042.7 L274.4,1043.0 L288.5,1043.2 L302.7,1043.4 L316.8,1043.5 L331.0,1043.5 L345.1,1043.5 L359.3,1043.4 L373.4,1043.2 L387.6,1043.0 L401.7,1042.7 L415.8,1042.4 L430.0,1042.0 L444.1,1041.5 L458.3,1041.0 L472.4,1040.4 L486.5,1039.8 L500.7,1039.1 L514.8,1038.3 L528.9,1037.5 L543.0,1036.6 L557.2,1035.6 L571.3,1034.6 L585.4,1033.6 L599.5,1032.4 L613.6,1031.2 L627.7,1030.0 L641.8,1028.7 L655.8,1027.3 L669.9,1025.8 L684.0,1024.3 L698.0,1022.8 L712.1,1021.1 L726.2,1019.5 L740.2,1017.7 L754.2,1015.9 L768.2,1014.0 L782.3,1012.1 L796.3,1010.1 L810.3,1008.1 L824.3,1005.9 L838.2,1003.8 L852.2,1001.5 L866.2,999.2 L880.1,996.9 L894.1,994.5 L908.0,992.0 L921.9,989.5 L935.8,986.9 L949.7,984.2 L963.6,981.5 L977.5,978.7 L991.3,975.9 L1005.2,973.0 L1019.0,970.0 L1032.8,967.0 L1046.7,963.9 L1060.5,960.8"/>
<path d="M-220.4,927.6 L-206.7,930.0 L-193.1,932.3 L-179.4,934.5 L-165.7,936.7 L-152.0,938.8 L-138.3,940.9 L-124.6,942.9 L-110.9,944.9 L-97.2,946.7 L-83.5,948.6 L-69.7,950.3 L-56.0,952.1 L-42.2,953.7 L-28.5,955.3 L-14.7,956.8 L-0.9,958.3 L12.9,959.7 L26.6,961.1 L40.4,962.4 L54.2,963.6 L68.0,964.8 L81.8,965.9 L95.7,966.9 L109.5,967.9 L123.3,968.8 L137.1,969.7 L151.0,970.5 L164.8,971.3 L178.6,972.0 L192.5,972.6 L206.3,973.2 L220.2,973.7 L234.0,974.1 L247.8,974.5 L261.7,974.9 L275.5,975.1 L289.4,975.3 L303.3,975.5 L317.1,975.6 L331.0,975.6 L344.8,975.6 L358.7,975.5 L372.5,975.3 L386.4,975.1 L400.2,974.9 L414.1,974.5 L427.9,974.1 L441.8,973.7 L455.6,973.2 L469.4,972.6 L483.3,972.0 L497.1,971.3 L511.0,970.5 L524.8,969.7 L538.6,968.9 L552.4,967.9 L566.3,966.9 L580.1,965.9 L593.9,964.8 L607.7,963.6 L621.5,962.4 L635.3,961.1 L649.1,959.7 L662.8,958.3 L676.6,956.8 L690.4,955.3 L704.1,953.7 L717.9,952.1 L731.6,950.4 L745.4,948.6 L759.1,946.8 L772.8,944.9 L786.6,942.9 L800.3,940.9 L814.0,938.8 L827.7,936.7 L841.3,934.5 L855.0,932.3 L868.7,930.0 L882.3,927.6 L895.9,925.2 L909.6,922.7 L923.2,920.2 L936.8,917.6 L950.4,914.9 L964.0,912.2 L977.6,909.4 L991.1,906.6 L1004.7,903.7 L1018.2,900.7 L1031.7,897.7 L1045.2,894.6"/>
<path d="M-208.7,861.3 L-195.4,863.6 L-182.0,865.9 L-168.6,868.1 L-155.2,870.2 L-141.8,872.3 L-128.4,874.4 L-115.0,876.3 L-101.6,878.2 L-88.2,880.1 L-74.7,881.9 L-61.3,883.6 L-47.8,885.3 L-34.3,886.9 L-20.9,888.4 L-7.4,889.9 L6.1,891.4 L19.6,892.8 L33.1,894.1 L46.6,895.4 L60.1,896.6 L73.6,897.7 L87.1,898.8 L100.6,899.8 L114.2,900.8 L127.7,901.7 L141.2,902.6 L154.8,903.4 L168.3,904.1 L181.8,904.8 L195.4,905.4 L208.9,906.0 L222.5,906.5 L236.0,906.9 L249.6,907.3 L263.2,907.6 L276.7,907.9 L290.3,908.1 L303.8,908.2 L317.4,908.3 L331.0,908.3 L344.5,908.3 L358.1,908.2 L371.6,908.1 L385.2,907.9 L398.8,907.6 L412.3,907.3 L425.9,906.9 L439.4,906.5 L453.0,906.0 L466.5,905.4 L480.1,904.8 L493.6,904.1 L507.2,903.4 L520.7,902.6 L534.2,901.7 L547.8,900.8 L561.3,899.8 L574.8,898.8 L588.3,897.7 L601.8,896.6 L615.3,895.4 L628.8,894.1 L642.3,892.8 L655.8,891.4 L669.3,890.0 L682.8,888.5 L696.3,886.9 L709.7,885.3 L723.2,883.6 L736.6,881.9 L750.1,880.1 L763.5,878.2 L776.9,876.3 L790.3,874.4 L803.8,872.3 L817.2,870.3 L830.5,868.1 L843.9,865.9 L857.3,863.7 L870.7,861.3 L884.0,859.0 L897.4,856.5 L910.7,854.1 L924.0,851.5 L937.3,848.9 L950.6,846.2 L963.9,843.5 L977.2,840.7 L990.4,837.9 L1003.7,835.0 L1016.9,832.1 L1030.1,829.1"/>
<path d="M-197.2,795.6 L-184.1,797.9 L-171.0,800.1 L-157.9,802.3 L-144.8,804.4 L-131.7,806.4 L-118.6,808.4 L-105.5,810.3 L-92.3,812.2 L-79.2,814.0 L-66.0,815.7 L-52.9,817.4 L-39.7,819.1 L-26.5,820.7 L-13.3,822.2 L-0.1,823.6 L13.0,825.1 L26.2,826.4 L39.5,827.7 L52.7,828.9 L65.9,830.1 L79.1,831.2 L92.3,832.3 L105.6,833.3 L118.8,834.3 L132.0,835.2 L145.3,836.0 L158.5,836.8 L171.8,837.5 L185.0,838.2 L198.3,838.8 L211.6,839.3 L224.8,839.8 L238.1,840.2 L251.3,840.6 L264.6,840.9 L277.9,841.2 L291.1,841.4 L304.4,841.5 L317.7,841.6 L331.0,841.6 L344.2,841.6 L357.5,841.5 L370.8,841.4 L384.0,841.2 L397.3,840.9 L410.6,840.6 L423.8,840.2 L437.1,839.8 L450.4,839.3 L463.6,838.8 L476.9,838.2 L490.1,837.5 L503.4,836.8 L516.6,836.0 L529.9,835.2 L543.1,834.3 L556.4,833.3 L569.6,832.3 L582.8,831.3 L596.0,830.1 L609.3,829.0 L622.5,827.7 L635.7,826.4 L648.9,825.1 L662.1,823.7 L675.3,822.2 L688.4,820.7 L701.6,819.1 L714.8,817.4 L727.9,815.8 L741.1,814.0 L754.2,812.2 L767.4,810.3 L780.5,808.4 L793.6,806.4 L806.8,804.4 L819.9,802.3 L832.9,800.1 L846.0,797.9 L859.1,795.7 L872.2,793.3 L885.2,791.0 L898.3,788.5 L911.3,786.0 L924.3,783.5 L937.3,780.9 L950.3,778.2 L963.3,775.5 L976.3,772.7 L989.3,769.9 L1002.2,767.0 L1015.2,764.1"/>
<path d="M-185.7,730.5 L-172.9,732.7 L-160.1,734.9 L-147.3,737.0 L-134.5,739.1 L-121.7,741.1 L-108.8,743.0 L-96.0,744.9 L-83.1,746.7 L-70.3,748.5 L-57.4,750.2 L-44.5,751.8 L-31.7,753.4 L-18.8,755.0 L-5.9,756.5 L7.0,757.9 L19.9,759.3 L32.9,760.6 L45.8,761.9 L58.7,763.1 L71.6,764.3 L84.6,765.4 L97.5,766.4 L110.5,767.4 L123.4,768.3 L136.4,769.2 L149.3,770.0 L162.3,770.8 L175.2,771.5 L188.2,772.1 L201.2,772.7 L214.1,773.2 L227.1,773.7 L240.1,774.1 L253.1,774.5 L266.1,774.8 L279.0,775.1 L292.0,775.3 L305.0,775.4 L318.0,775.5 L331.0,775.5 L343.9,775.5 L356.9,775.4 L369.9,775.3 L382.9,775.1 L395.9,774.8 L408.8,774.5 L421.8,774.1 L434.8,773.7 L447.8,773.2 L460.7,772.7 L473.7,772.1 L486.7,771.5 L499.6,770.8 L512.6,770.0 L525.6,769.2 L538.5,768.3 L551.5,767.4 L564.4,766.4 L577.4,765.4 L590.3,764.3 L603.2,763.1 L616.1,761.9 L629.1,760.6 L642.0,759.3 L654.9,757.9 L667.8,756.5 L680.7,755.0 L693.6,753.5 L706.5,751.9 L719.3,750.2 L732.2,748.5 L745.1,746.7 L757.9,744.9 L770.8,743.0 L783.6,741.1 L796.4,739.1 L809.3,737.0 L822.1,734.9 L834.9,732.8 L847.7,730.5 L860.4,728.3 L873.2,725.9 L886.0,723.6 L898.7,721.1 L911.5,718.6 L924.2,716.1 L936.9,713.5 L949.6,710.8 L962.3,708.1 L975.0,705.3 L987.7,702.5 L1000.3,699.6"/>
<path d="M-174.4,666.0 L-161.9,668.1 L-149.3,670.2 L-136.8,672.3 L-124.3,674.3 L-111.7,676.2 L-99.2,678.1 L-86.6,680.0 L-74.0,681.8 L-61.5,683.5 L-48.9,685.2 L-36.3,686.8 L-23.7,688.4 L-11.1,689.9 L1.5,691.3 L14.2,692.7 L26.8,694.1 L39.4,695.4 L52.0,696.6 L64.7,697.8 L77.3,698.9 L90.0,700.0 L102.6,701.0 L115.3,702.0 L128.0,702.9 L140.6,703.8 L153.3,704.6 L166.0,705.3 L178.7,706.0 L191.3,706.6 L204.0,707.2 L216.7,707.7 L229.4,708.2 L242.1,708.6 L254.8,709.0 L267.5,709.3 L280.2,709.5 L292.9,709.7 L305.6,709.9 L318.3,709.9 L331.0,710.0 L343.7,709.9 L356.4,709.9 L369.1,709.7 L381.7,709.5 L394.4,709.3 L407.1,709.0 L419.8,708.6 L432.5,708.2 L445.2,707.7 L457.9,707.2 L470.6,706.6 L483.3,706.0 L495.9,705.3 L508.6,704.6 L521.3,703.8 L534.0,702.9 L546.6,702.0 L559.3,701.0 L571.9,700.0 L584.6,698.9 L597.2,697.8 L609.9,696.6 L622.5,695.4 L635.1,694.1 L647.8,692.8 L660.4,691.4 L673.0,689.9 L685.6,688.4 L698.2,686.8 L710.8,685.2 L723.4,683.5 L736.0,681.8 L748.5,680.0 L761.1,678.2 L773.7,676.3 L786.2,674.3 L798.7,672.3 L811.3,670.2 L823.8,668.1 L836.3,666.0 L848.8,663.7 L861.3,661.5 L873.8,659.1 L886.3,656.8 L898.7,654.3 L911.2,651.8 L923.6,649.3 L936.0,646.7 L948.4,644.0 L960.8,641.3 L973.2,638.5 L985.6,635.7"/>
<path d="M-163.1,601.9 L-150.9,604.0 L-138.6,606.1 L-126.4,608.1 L-114.1,610.1 L-101.9,612.0 L-89.6,613.8 L-77.3,615.6 L-65.0,617.4 L-52.7,619.1 L-40.4,620.7 L-28.1,622.3 L-15.8,623.8 L-3.5,625.3 L8.9,626.7 L21.2,628.1 L33.6,629.4 L45.9,630.7 L58.3,631.9 L70.6,633.1 L83.0,634.2 L95.4,635.2 L107.7,636.2 L120.1,637.2 L132.5,638.0 L144.9,638.9 L157.3,639.7 L169.7,640.4 L182.1,641.1 L194.5,641.7 L206.9,642.2 L219.3,642.8 L231.7,643.2 L244.1,643.6 L256.5,644.0 L268.9,644.3 L281.3,644.5 L293.7,644.7 L306.1,644.8 L318.5,644.9 L331.0,644.9 L343.4,644.9 L355.8,644.8 L368.2,644.7 L380.6,644.5 L393.0,644.3 L405.4,644.0 L417.9,643.6 L430.3,643.2 L442.7,642.8 L455.1,642.2 L467.5,641.7 L479.9,641.1 L492.3,640.4 L504.7,639.7 L517.0,638.9 L529.4,638.0 L541.8,637.2 L554.2,636.2 L566.6,635.2 L578.9,634.2 L591.3,633.1 L603.7,631.9 L616.0,630.7 L628.4,629.4 L640.7,628.1 L653.1,626.7 L665.4,625.3 L677.7,623.8 L690.0,622.3 L702.3,620.7 L714.6,619.1 L726.9,617.4 L739.2,615.6 L751.5,613.8 L763.8,612.0 L776.1,610.1 L788.3,608.1 L800.6,606.1 L812.8,604.0 L825.0,601.9 L837.3,599.7 L849.5,597.5 L861.7,595.2 L873.9,592.9 L886.1,590.5 L898.2,588.1 L910.4,585.6 L922.5,583.1 L934.7,580.5 L946.8,577.8 L958.9,575.1 L971.0,572.4"/>
<path d="M-151.9,538.4 L-140.0,540.5 L-128.0,542.5 L-116.1,544.4 L-104.1,546.4 L-92.1,548.2 L-80.1,550.0 L-68.1,551.8 L-56.1,553.5 L-44.0,555.2 L-32.0,556.8 L-20.0,558.3 L-7.9,559.8 L4.1,561.2 L16.2,562.6 L28.2,564.0 L40.3,565.3 L52.4,566.5 L64.4,567.7 L76.5,568.8 L88.6,569.9 L100.7,570.9 L112.8,571.9 L124.9,572.8 L137.0,573.7 L149.1,574.5 L161.2,575.3 L173.3,576.0 L185.4,576.6 L197.5,577.3 L209.7,577.8 L221.8,578.3 L233.9,578.8 L246.0,579.1 L258.2,579.5 L270.3,579.8 L282.4,580.0 L294.6,580.2 L306.7,580.3 L318.8,580.4 L331.0,580.4 L343.1,580.4 L355.2,580.3 L367.4,580.2 L379.5,580.0 L391.6,579.8 L403.8,579.5 L415.9,579.1 L428.0,578.8 L440.1,578.3 L452.3,577.8 L464.4,577.3 L476.5,576.6 L488.6,576.0 L500.7,575.3 L512.8,574.5 L524.9,573.7 L537.1,572.8 L549.1,571.9 L561.2,570.9 L573.3,569.9 L585.4,568.8 L597.5,567.7 L609.6,566.5 L621.6,565.3 L633.7,564.0 L645.8,562.7 L657.8,561.3 L669.9,559.8 L681.9,558.3 L693.9,556.8 L706.0,555.2 L718.0,553.5 L730.0,551.8 L742.0,550.0 L754.0,548.2 L766.0,546.4 L778.0,544.4 L790.0,542.5 L801.9,540.5 L813.9,538.4 L825.8,536.3 L837.8,534.1 L849.7,531.9 L861.6,529.6 L873.5,527.3 L885.4,524.9 L897.3,522.4 L909.2,520.0 L921.0,517.4 L932.9,514.8 L944.7,512.2 L956.6,509.5"/>
<path d="M-140.9,475.3 L-129.2,477.4 L-117.5,479.3 L-105.8,481.3 L-94.1,483.1 L-82.4,485.0 L-70.6,486.7 L-58.9,488.4 L-47.2,490.1 L-35.4,491.7 L-23.7,493.3 L-11.9,494.8 L-0.2,496.3 L11.6,497.7 L23.4,499.1 L35.2,500.4 L47.0,501.6 L58.7,502.8 L70.5,504.0 L82.3,505.1 L94.2,506.1 L106.0,507.2 L117.8,508.1 L129.6,509.0 L141.4,509.9 L153.3,510.6 L165.1,511.4 L176.9,512.1 L188.8,512.7 L200.6,513.3 L212.4,513.9 L224.3,514.4 L236.1,514.8 L248.0,515.2 L259.8,515.5 L271.7,515.8 L283.5,516.0 L295.4,516.2 L307.3,516.3 L319.1,516.4 L331.0,516.4 L342.8,516.4 L354.7,516.3 L366.5,516.2 L378.4,516.0 L390.2,515.8 L402.1,515.5 L413.9,515.2 L425.8,514.8 L437.6,514.4 L449.5,513.9 L461.3,513.3 L473.2,512.7 L485.0,512.1 L496.8,511.4 L508.7,510.7 L520.5,509.9 L532.3,509.0 L544.1,508.1 L556.0,507.2 L567.8,506.2 L579.6,505.1 L591.4,504.0 L603.2,502.8 L615.0,501.6 L626.8,500.4 L638.5,499.1 L650.3,497.7 L662.1,496.3 L673.9,494.8 L685.6,493.3 L697.4,491.7 L709.1,490.1 L720.8,488.5 L732.6,486.7 L744.3,485.0 L756.0,483.2 L767.7,481.3 L779.4,479.4 L791.1,477.4 L802.8,475.4 L814.5,473.3 L826.1,471.2 L837.8,469.0 L849.4,466.8 L861.1,464.5 L872.7,462.2 L884.3,459.8 L895.9,457.3 L907.5,454.9 L919.1,452.3 L930.6,449.8 L942.2,447.1"/>
<path d="M-129.9,412.8 L-118.5,414.8 L-107.0,416.7 L-95.6,418.6 L-84.2,420.4 L-72.7,422.2 L-61.3,423.9 L-49.8,425.6 L-38.4,427.2 L-26.9,428.8 L-15.4,430.3 L-3.9,431.8 L7.6,433.2 L19.1,434.6 L30.6,436.0 L42.1,437.2 L53.6,438.5 L65.1,439.6 L76.6,440.8 L88.1,441.9 L99.7,442.9 L111.2,443.9 L122.8,444.8 L134.3,445.7 L145.9,446.5 L157.4,447.3 L169.0,448.0 L180.5,448.7 L192.1,449.3 L203.6,449.9 L215.2,450.4 L226.8,450.9 L238.4,451.3 L249.9,451.7 L261.5,452.0 L273.1,452.3 L284.7,452.5 L296.2,452.7 L307.8,452.8 L319.4,452.9 L331.0,452.9 L342.5,452.9 L354.1,452.8 L365.7,452.7 L377.3,452.5 L388.9,452.3 L400.4,452.0 L412.0,451.7 L423.6,451.3 L435.1,450.9 L446.7,450.4 L458.3,449.9 L469.8,449.3 L481.4,448.7 L493.0,448.0 L504.5,447.3 L516.1,446.5 L527.6,445.7 L539.2,444.8 L550.7,443.9 L562.3,442.9 L573.8,441.9 L585.3,440.8 L596.8,439.6 L608.4,438.5 L619.9,437.2 L631.4,436.0 L642.9,434.6 L654.4,433.3 L665.9,431.8 L677.3,430.3 L688.8,428.8 L700.3,427.2 L711.8,425.6 L723.2,423.9 L734.7,422.2 L746.1,420.4 L757.5,418.6 L769.0,416.7 L780.4,414.8 L791.8,412.8 L803.2,410.8 L814.6,408.7 L826.0,406.6 L837.3,404.4 L848.7,402.2 L860.1,399.9 L871.4,397.6 L882.7,395.2 L894.1,392.8 L905.4,390.3 L916.7,387.8 L928.0,385.2"/>
<path d="M-118.9,350.7 L-107.8,352.6 L-96.7,354.5 L-85.5,356.4 L-74.3,358.1 L-63.2,359.9 L-52.0,361.6 L-40.8,363.2 L-29.6,364.8 L-18.4,366.3 L-7.2,367.8 L4.0,369.3 L15.2,370.7 L26.4,372.0 L37.7,373.3 L48.9,374.6 L60.1,375.8 L71.4,376.9 L82.6,378.0 L93.9,379.1 L105.2,380.1 L116.4,381.0 L127.7,382.0 L139.0,382.8 L150.2,383.6 L161.5,384.4 L172.8,385.1 L184.1,385.8 L195.4,386.4 L206.7,386.9 L218.0,387.4 L229.3,387.9 L240.5,388.3 L251.8,388.7 L263.1,389.0 L274.4,389.3 L285.7,389.5 L297.1,389.7 L308.4,389.8 L319.7,389.9 L331.0,389.9 L342.3,389.9 L353.6,389.8 L364.9,389.7 L376.2,389.5 L387.5,389.3 L398.8,389.0 L410.1,388.7 L421.4,388.3 L432.7,387.9 L444.0,387.4 L455.3,386.9 L466.6,386.4 L477.8,385.8 L489.1,385.1 L500.4,384.4 L511.7,383.6 L523.0,382.8 L534.2,382.0 L545.5,381.0 L556.8,380.1 L568.0,379.1 L579.3,378.0 L590.5,376.9 L601.8,375.8 L613.0,374.6 L624.3,373.3 L635.5,372.0 L646.7,370.7 L657.9,369.3 L669.1,367.8 L680.4,366.4 L691.5,364.8 L702.7,363.2 L713.9,361.6 L725.1,359.9 L736.3,358.2 L747.4,356.4 L758.6,354.5 L769.7,352.7 L780.9,350.7 L792.0,348.8 L803.1,346.7 L814.2,344.6 L825.3,342.5 L836.4,340.4 L847.5,338.1 L858.6,335.9 L869.7,333.6 L880.7,331.2 L891.8,328.8 L902.8,326.3 L913.8,323.8"/>
<path d="M-108.1,289.1 L-97.2,291.0 L-86.4,292.8 L-75.5,294.6 L-64.6,296.3 L-53.7,298.0 L-42.8,299.7 L-31.9,301.3 L-20.9,302.8 L-10.0,304.3 L0.9,305.8 L11.9,307.2 L22.8,308.6 L33.8,309.9 L44.7,311.1 L55.7,312.4 L66.7,313.5 L77.6,314.7 L88.6,315.7 L99.6,316.8 L110.6,317.8 L121.6,318.7 L132.6,319.6 L143.6,320.4 L154.6,321.2 L165.6,321.9 L176.6,322.6 L187.6,323.3 L198.6,323.9 L209.7,324.4 L220.7,324.9 L231.7,325.4 L242.7,325.8 L253.8,326.2 L264.8,326.5 L275.8,326.7 L286.8,326.9 L297.9,327.1 L308.9,327.2 L319.9,327.3 L331.0,327.3 L342.0,327.3 L353.0,327.2 L364.1,327.1 L375.1,326.9 L386.1,326.7 L397.2,326.5 L408.2,326.2 L419.2,325.8 L430.2,325.4 L441.3,324.9 L452.3,324.4 L463.3,323.9 L474.3,323.3 L485.3,322.6 L496.3,321.9 L507.3,321.2 L518.3,320.4 L529.3,319.6 L540.3,318.7 L551.3,317.8 L562.3,316.8 L573.3,315.7 L584.3,314.7 L595.3,313.5 L606.2,312.4 L617.2,311.2 L628.2,309.9 L639.1,308.6 L650.1,307.2 L661.0,305.8 L671.9,304.3 L682.9,302.8 L693.8,301.3 L704.7,299.7 L715.6,298.0 L726.5,296.3 L737.4,294.6 L748.3,292.8 L759.2,291.0 L770.0,289.1 L780.9,287.2 L791.8,285.2 L802.6,283.2 L813.4,281.1 L824.3,279.0 L835.1,276.8 L845.9,274.6 L856.7,272.3 L867.5,270.0 L878.3,267.7 L889.0,265.3 L899.8,262.8"/>
<path d="M-97.3,227.9 L-86.7,229.7 L-76.1,231.5 L-65.5,233.3 L-54.9,235.0 L-44.2,236.6 L-33.6,238.2 L-23.0,239.8 L-12.3,241.3 L-1.6,242.8 L9.0,244.2 L19.7,245.6 L30.4,246.9 L41.1,248.2 L51.8,249.4 L62.4,250.6 L73.1,251.7 L83.9,252.8 L94.6,253.9 L105.3,254.9 L116.0,255.9 L126.7,256.8 L137.4,257.6 L148.2,258.4 L158.9,259.2 L169.7,259.9 L180.4,260.6 L191.1,261.3 L201.9,261.8 L212.6,262.4 L223.4,262.9 L234.1,263.3 L244.9,263.7 L255.6,264.1 L266.4,264.4 L277.2,264.6 L287.9,264.8 L298.7,265.0 L309.4,265.1 L320.2,265.2 L331.0,265.2 L341.7,265.2 L352.5,265.1 L363.3,265.0 L374.0,264.8 L384.8,264.6 L395.5,264.4 L406.3,264.1 L417.0,263.7 L427.8,263.3 L438.6,262.9 L449.3,262.4 L460.1,261.8 L470.8,261.3 L481.5,260.6 L492.3,259.9 L503.0,259.2 L513.8,258.5 L524.5,257.6 L535.2,256.8 L545.9,255.9 L556.7,254.9 L567.4,253.9 L578.1,252.9 L588.8,251.8 L599.5,250.6 L610.2,249.4 L620.9,248.2 L631.6,246.9 L642.2,245.6 L652.9,244.2 L663.6,242.8 L674.2,241.3 L684.9,239.8 L695.5,238.2 L706.2,236.6 L716.8,235.0 L727.4,233.3 L738.1,231.5 L748.7,229.7 L759.3,227.9 L769.9,226.0 L780.5,224.1 L791.0,222.1 L801.6,220.1 L812.2,218.0 L822.7,215.9 L833.3,213.8 L843.8,211.6 L854.3,209.3 L864.8,207.0 L875.3,204.7 L885.8,202.3"/>
<path d="M-129.9,1079.9 L-127.5,1062.9 L-125.1,1045.9 L-122.7,1029.0 L-120.3,1012.1 L-118.0,995.2 L-115.6,978.4 L-113.3,961.6 L-110.9,944.9 L-108.6,928.1 L-106.2,911.5 L-103.9,894.8 L-101.6,878.2 L-99.3,861.7 L-96.9,845.1 L-94.6,828.6 L-92.3,812.2 L-90.0,795.8 L-87.7,779.4 L-85.4,763.0 L-83.1,746.7 L-80.9,730.4 L-78.6,714.2 L-76.3,698.0 L-74.0,681.8 L-71.8,665.6 L-69.5,649.5 L-67.3,633.4 L-65.0,617.4 L-62.8,601.4 L-60.5,585.4 L-58.3,569.4 L-56.1,553.5 L-53.8,537.6 L-51.6,521.7 L-49.4,505.9 L-47.2,490.1 L-45.0,474.3 L-42.8,458.6 L-40.6,442.9 L-38.4,427.2 L-36.2,411.6 L-34.0,396.0 L-31.8,380.4 L-29.6,364.8 L-27.4,349.3 L-25.3,333.8 L-23.1,318.3 L-20.9,302.8 L-18.8,287.4 L-16.6,272.0 L-14.5,256.6 L-12.3,241.3 L-10.2,226.0 L-8.0,210.7 L-5.9,195.4 L-3.7,180.2"/>
<path d="M-72.6,1087.5 L-70.5,1070.4 L-68.4,1053.4 L-66.3,1036.4 L-64.2,1019.4 L-62.2,1002.5 L-60.1,985.7 L-58.0,968.8 L-56.0,952.1 L-53.9,935.3 L-51.9,918.6 L-49.8,901.9 L-47.8,885.3 L-45.8,868.7 L-43.7,852.1 L-41.7,835.6 L-39.7,819.1 L-37.7,802.6 L-35.7,786.2 L-33.7,769.8 L-31.7,753.4 L-29.7,737.1 L-27.7,720.8 L-25.7,704.6 L-23.7,688.4 L-21.7,672.2 L-19.7,656.0 L-17.8,639.9 L-15.8,623.8 L-13.8,607.8 L-11.9,591.8 L-9.9,575.8 L-7.9,559.8 L-6.0,543.9 L-4.0,528.0 L-2.1,512.1 L-0.2,496.3 L1.8,480.5 L3.7,464.7 L5.6,449.0 L7.6,433.2 L9.5,417.6 L11.4,401.9 L13.3,386.3 L15.2,370.7 L17.1,355.1 L19.0,339.6 L20.9,324.1 L22.8,308.6 L24.7,293.1 L26.6,277.7 L28.5,262.3 L30.4,246.9 L32.3,231.5 L34.1,216.2 L36.0,200.9 L37.9,185.7"/>
<path d="M-15.1,1094.0 L-13.4,1076.9 L-11.6,1059.8 L-9.8,1042.8 L-8.0,1025.8 L-6.2,1008.9 L-4.5,992.0 L-2.7,975.1 L-0.9,958.3 L0.8,941.5 L2.6,924.8 L4.3,908.1 L6.1,891.4 L7.8,874.8 L9.6,858.2 L11.3,841.6 L13.0,825.1 L14.8,808.6 L16.5,792.1 L18.2,775.7 L19.9,759.3 L21.7,742.9 L23.4,726.6 L25.1,710.3 L26.8,694.1 L28.5,677.9 L30.2,661.7 L31.9,645.5 L33.6,629.4 L35.2,613.3 L36.9,597.3 L38.6,581.3 L40.3,565.3 L42.0,549.3 L43.6,533.4 L45.3,517.5 L47.0,501.6 L48.6,485.8 L50.3,470.0 L51.9,454.2 L53.6,438.5 L55.2,422.7 L56.9,407.1 L58.5,391.4 L60.1,375.8 L61.8,360.2 L63.4,344.6 L65.0,329.1 L66.7,313.5 L68.3,298.1 L69.9,282.6 L71.5,267.2 L73.1,251.7 L74.8,236.4 L76.4,221.0 L78.0,205.7 L79.6,190.4"/>
<path d="M42.4,1099.5 L43.9,1082.4 L45.4,1065.3 L46.9,1048.2 L48.3,1031.2 L49.8,1014.3 L51.3,997.3 L52.8,980.4 L54.2,963.6 L55.7,946.8 L57.2,930.0 L58.6,913.3 L60.1,896.6 L61.5,879.9 L63.0,863.3 L64.4,846.7 L65.9,830.1 L67.3,813.6 L68.8,797.1 L70.2,780.7 L71.6,764.3 L73.1,747.9 L74.5,731.5 L75.9,715.2 L77.3,698.9 L78.8,682.7 L80.2,666.5 L81.6,650.3 L83.0,634.2 L84.4,618.0 L85.8,602.0 L87.2,585.9 L88.6,569.9 L90.0,553.9 L91.4,538.0 L92.8,522.0 L94.2,506.1 L95.5,490.3 L96.9,474.5 L98.3,458.7 L99.7,442.9 L101.1,427.1 L102.4,411.4 L103.8,395.7 L105.2,380.1 L106.5,364.5 L107.9,348.9 L109.2,333.3 L110.6,317.8 L112.0,302.2 L113.3,286.7 L114.7,271.3 L116.0,255.9 L117.3,240.5 L118.7,225.1 L120.0,209.7 L121.4,194.4"/>
<path d="M100.0,1104.0 L101.2,1086.8 L102.4,1069.7 L103.6,1052.7 L104.8,1035.6 L105.9,1018.7 L107.1,1001.7 L108.3,984.8 L109.5,967.9 L110.7,951.1 L111.8,934.3 L113.0,917.5 L114.2,900.8 L115.3,884.1 L116.5,867.5 L117.6,850.8 L118.8,834.3 L120.0,817.7 L121.1,801.2 L122.3,784.7 L123.4,768.3 L124.5,751.9 L125.7,735.5 L126.8,719.2 L128.0,702.9 L129.1,686.6 L130.2,670.4 L131.4,654.2 L132.5,638.0 L133.6,621.9 L134.7,605.8 L135.9,589.7 L137.0,573.7 L138.1,557.7 L139.2,541.7 L140.3,525.8 L141.4,509.9 L142.5,494.0 L143.6,478.1 L144.7,462.3 L145.9,446.5 L147.0,430.7 L148.0,415.0 L149.1,399.3 L150.2,383.6 L151.3,368.0 L152.4,352.4 L153.5,336.8 L154.6,321.2 L155.7,305.7 L156.8,290.2 L157.8,274.7 L158.9,259.2 L160.0,243.8 L161.1,228.4 L162.1,213.0 L163.2,197.7"/>
<path d="M157.7,1107.5 L158.6,1090.3 L159.5,1073.2 L160.4,1056.1 L161.2,1039.1 L162.1,1022.1 L163.0,1005.1 L163.9,988.2 L164.8,971.3 L165.7,954.4 L166.6,937.6 L167.4,920.8 L168.3,904.1 L169.2,887.4 L170.0,870.7 L170.9,854.1 L171.8,837.5 L172.7,820.9 L173.5,804.4 L174.4,787.9 L175.2,771.5 L176.1,755.0 L177.0,738.7 L177.8,722.3 L178.7,706.0 L179.5,689.7 L180.4,673.5 L181.2,657.2 L182.1,641.1 L182.9,624.9 L183.7,608.8 L184.6,592.7 L185.4,576.6 L186.3,560.6 L187.1,544.6 L187.9,528.7 L188.8,512.7 L189.6,496.8 L190.4,481.0 L191.3,465.1 L192.1,449.3 L192.9,433.5 L193.7,417.8 L194.6,402.1 L195.4,386.4 L196.2,370.7 L197.0,355.1 L197.8,339.5 L198.6,323.9 L199.5,308.3 L200.3,292.8 L201.1,277.3 L201.9,261.8 L202.7,246.4 L203.5,231.0 L204.3,215.6 L205.1,200.2"/>
<path d="M215.4,1110.0 L216.0,1092.8 L216.6,1075.7 L217.2,1058.6 L217.8,1041.5 L218.4,1024.5 L219.0,1007.5 L219.6,990.6 L220.2,973.7 L220.7,956.8 L221.3,940.0 L221.9,923.2 L222.5,906.5 L223.1,889.7 L223.7,873.1 L224.2,856.4 L224.8,839.8 L225.4,823.2 L226.0,806.7 L226.5,790.2 L227.1,773.7 L227.7,757.3 L228.3,740.9 L228.8,724.5 L229.4,708.2 L230.0,691.9 L230.5,675.6 L231.1,659.4 L231.7,643.2 L232.2,627.1 L232.8,610.9 L233.4,594.8 L233.9,578.8 L234.5,562.7 L235.0,546.7 L235.6,530.7 L236.1,514.8 L236.7,498.9 L237.2,483.0 L237.8,467.1 L238.4,451.3 L238.9,435.5 L239.5,419.8 L240.0,404.0 L240.5,388.3 L241.1,372.7 L241.6,357.0 L242.2,341.4 L242.7,325.8 L243.3,310.2 L243.8,294.7 L244.3,279.2 L244.9,263.7 L245.4,248.3 L246.0,232.8 L246.5,217.4 L247.0,202.0"/>
<path d="M273.2,1111.5 L273.5,1094.3 L273.8,1077.2 L274.1,1060.1 L274.4,1043.0 L274.7,1026.0 L275.0,1009.0 L275.3,992.0 L275.5,975.1 L275.8,958.3 L276.1,941.4 L276.4,924.6 L276.7,907.9 L277.0,891.1 L277.3,874.5 L277.6,857.8 L277.9,841.2 L278.2,824.6 L278.5,808.1 L278.7,791.6 L279.0,775.1 L279.3,758.6 L279.6,742.2 L279.9,725.9 L280.2,709.5 L280.5,693.2 L280.7,677.0 L281.0,660.7 L281.3,644.5 L281.6,628.3 L281.9,612.2 L282.2,596.1 L282.4,580.0 L282.7,564.0 L283.0,548.0 L283.3,532.0 L283.5,516.0 L283.8,500.1 L284.1,484.2 L284.4,468.4 L284.7,452.5 L284.9,436.7 L285.2,421.0 L285.5,405.2 L285.7,389.5 L286.0,373.8 L286.3,358.2 L286.6,342.5 L286.8,326.9 L287.1,311.4 L287.4,295.8 L287.7,280.3 L287.9,264.8 L288.2,249.4 L288.5,233.9 L288.7,218.5 L289.0,203.1"/>
<path d="M331.0,1112.0 L331.0,1094.8 L331.0,1077.7 L331.0,1060.6 L331.0,1043.5 L331.0,1026.5 L331.0,1009.5 L331.0,992.5 L331.0,975.6 L331.0,958.7 L331.0,941.9 L331.0,925.1 L331.0,908.3 L331.0,891.6 L331.0,874.9 L331.0,858.3 L331.0,841.6 L331.0,825.1 L331.0,808.5 L331.0,792.0 L331.0,775.5 L331.0,759.1 L331.0,742.7 L331.0,726.3 L331.0,710.0 L331.0,693.7 L331.0,677.4 L331.0,661.1 L331.0,644.9 L331.0,628.8 L331.0,612.6 L331.0,596.5 L331.0,580.4 L331.0,564.4 L331.0,548.4 L331.0,532.4 L331.0,516.4 L331.0,500.5 L331.0,484.6 L331.0,468.8 L331.0,452.9 L331.0,437.1 L331.0,421.4 L331.0,405.6 L331.0,389.9 L331.0,374.2 L331.0,358.6 L331.0,342.9 L331.0,327.3 L331.0,311.8 L331.0,296.2 L331.0,280.7 L331.0,265.2 L331.0,249.7 L331.0,234.3 L331.0,218.9 L331.0,203.5"/>
<path d="M388.7,1111.5 L388.4,1094.3 L388.1,1077.2 L387.8,1060.1 L387.6,1043.0 L387.3,1026.0 L387.0,1009.0 L386.7,992.1 L386.4,975.1 L386.1,958.3 L385.8,941.4 L385.5,924.6 L385.2,907.9 L384.9,891.1 L384.6,874.5 L384.3,857.8 L384.0,841.2 L383.8,824.6 L383.5,808.1 L383.2,791.6 L382.9,775.1 L382.6,758.6 L382.3,742.2 L382.0,725.9 L381.7,709.5 L381.5,693.2 L381.2,677.0 L380.9,660.7 L380.6,644.5 L380.3,628.3 L380.1,612.2 L379.8,596.1 L379.5,580.0 L379.2,564.0 L378.9,548.0 L378.7,532.0 L378.4,516.0 L378.1,500.1 L377.8,484.2 L377.6,468.4 L377.3,452.5 L377.0,436.7 L376.7,421.0 L376.5,405.2 L376.2,389.5 L375.9,373.8 L375.6,358.2 L375.4,342.5 L375.1,326.9 L374.8,311.4 L374.6,295.8 L374.3,280.3 L374.0,264.8 L373.7,249.4 L373.5,233.9 L373.2,218.5 L372.9,203.1"/>
<path d="M446.5,1110.0 L445.9,1092.8 L445.3,1075.7 L444.7,1058.6 L444.1,1041.5 L443.5,1024.5 L442.9,1007.5 L442.4,990.6 L441.8,973.7 L441.2,956.8 L440.6,940.0 L440.0,923.2 L439.4,906.5 L438.8,889.7 L438.3,873.1 L437.7,856.4 L437.1,839.8 L436.5,823.2 L436.0,806.7 L435.4,790.2 L434.8,773.7 L434.2,757.3 L433.7,740.9 L433.1,724.5 L432.5,708.2 L432.0,691.9 L431.4,675.6 L430.8,659.4 L430.3,643.2 L429.7,627.1 L429.1,610.9 L428.6,594.8 L428.0,578.8 L427.5,562.7 L426.9,546.7 L426.3,530.7 L425.8,514.8 L425.2,498.9 L424.7,483.0 L424.1,467.1 L423.6,451.3 L423.0,435.5 L422.5,419.8 L421.9,404.0 L421.4,388.3 L420.8,372.7 L420.3,357.0 L419.8,341.4 L419.2,325.8 L418.7,310.2 L418.1,294.7 L417.6,279.2 L417.0,263.7 L416.5,248.3 L416.0,232.8 L415.4,217.4 L414.9,202.0"/>
<path d="M504.2,1107.5 L503.3,1090.3 L502.5,1073.2 L501.6,1056.1 L500.7,1039.1 L499.8,1022.1 L498.9,1005.1 L498.0,988.2 L497.1,971.3 L496.2,954.4 L495.4,937.6 L494.5,920.8 L493.6,904.1 L492.7,887.4 L491.9,870.7 L491.0,854.1 L490.1,837.5 L489.3,820.9 L488.4,804.4 L487.5,787.9 L486.7,771.5 L485.8,755.1 L485.0,738.7 L484.1,722.3 L483.3,706.0 L482.4,689.7 L481.6,673.5 L480.7,657.2 L479.9,641.1 L479.0,624.9 L478.2,608.8 L477.3,592.7 L476.5,576.6 L475.7,560.6 L474.8,544.6 L474.0,528.7 L473.2,512.7 L472.3,496.8 L471.5,481.0 L470.7,465.1 L469.8,449.3 L469.0,433.5 L468.2,417.8 L467.4,402.1 L466.6,386.4 L465.7,370.7 L464.9,355.1 L464.1,339.5 L463.3,323.9 L462.5,308.3 L461.7,292.8 L460.9,277.3 L460.1,261.8 L459.2,246.4 L458.4,231.0 L457.6,215.6 L456.8,200.2"/>
<path d="M561.9,1104.0 L560.7,1086.9 L559.5,1069.7 L558.3,1052.7 L557.2,1035.6 L556.0,1018.7 L554.8,1001.7 L553.6,984.8 L552.4,967.9 L551.3,951.1 L550.1,934.3 L548.9,917.5 L547.8,900.8 L546.6,884.1 L545.4,867.5 L544.3,850.9 L543.1,834.3 L542.0,817.7 L540.8,801.2 L539.7,784.8 L538.5,768.3 L537.4,751.9 L536.2,735.5 L535.1,719.2 L534.0,702.9 L532.8,686.6 L531.7,670.4 L530.6,654.2 L529.4,638.0 L528.3,621.9 L527.2,605.8 L526.1,589.7 L524.9,573.7 L523.8,557.7 L522.7,541.7 L521.6,525.8 L520.5,509.9 L519.4,494.0 L518.3,478.1 L517.2,462.3 L516.1,446.5 L515.0,430.7 L513.9,415.0 L512.8,399.3 L511.7,383.6 L510.6,368.0 L509.5,352.4 L508.4,336.8 L507.3,321.2 L506.3,305.7 L505.2,290.2 L504.1,274.7 L503.0,259.2 L501.9,243.8 L500.9,228.4 L499.8,213.0 L498.7,197.7"/>
<path d="M619.5,1099.5 L618.0,1082.4 L616.6,1065.3 L615.1,1048.2 L613.6,1031.2 L612.1,1014.3 L610.6,997.3 L609.1,980.4 L607.7,963.6 L606.2,946.8 L604.7,930.0 L603.3,913.3 L601.8,896.6 L600.4,879.9 L598.9,863.3 L597.5,846.7 L596.0,830.1 L594.6,813.6 L593.2,797.1 L591.7,780.7 L590.3,764.3 L588.9,747.9 L587.4,731.5 L586.0,715.2 L584.6,698.9 L583.2,682.7 L581.8,666.5 L580.3,650.3 L578.9,634.2 L577.5,618.1 L576.1,602.0 L574.7,585.9 L573.3,569.9 L571.9,553.9 L570.5,538.0 L569.2,522.0 L567.8,506.2 L566.4,490.3 L565.0,474.5 L563.6,458.7 L562.3,442.9 L560.9,427.1 L559.5,411.4 L558.1,395.7 L556.8,380.1 L555.4,364.5 L554.1,348.9 L552.7,333.3 L551.3,317.8 L550.0,302.2 L548.6,286.8 L547.3,271.3 L545.9,255.9 L544.6,240.5 L543.3,225.1 L541.9,209.7 L540.6,194.4"/>
<path d="M677.1,1094.0 L675.3,1076.9 L673.5,1059.8 L671.7,1042.8 L669.9,1025.8 L668.1,1008.9 L666.4,992.0 L664.6,975.1 L662.8,958.3 L661.1,941.5 L659.3,924.8 L657.6,908.1 L655.8,891.4 L654.1,874.8 L652.3,858.2 L650.6,841.6 L648.9,825.1 L647.1,808.6 L645.4,792.1 L643.7,775.7 L642.0,759.3 L640.3,743.0 L638.6,726.6 L636.9,710.4 L635.1,694.1 L633.4,677.9 L631.8,661.7 L630.1,645.6 L628.4,629.4 L626.7,613.3 L625.0,597.3 L623.3,581.3 L621.6,565.3 L620.0,549.3 L618.3,533.4 L616.6,517.5 L615.0,501.6 L613.3,485.8 L611.7,470.0 L610.0,454.2 L608.4,438.5 L606.7,422.8 L605.1,407.1 L603.4,391.4 L601.8,375.8 L600.2,360.2 L598.5,344.6 L596.9,329.1 L595.3,313.5 L593.6,298.1 L592.0,282.6 L590.4,267.2 L588.8,251.8 L587.2,236.4 L585.6,221.0 L584.0,205.7 L582.4,190.4"/>
<path d="M734.5,1087.5 L732.4,1070.4 L730.3,1053.4 L728.2,1036.4 L726.2,1019.5 L724.1,1002.5 L722.0,985.7 L720.0,968.9 L717.9,952.1 L715.8,935.3 L713.8,918.6 L711.8,901.9 L709.7,885.3 L707.7,868.7 L705.7,852.1 L703.6,835.6 L701.6,819.1 L699.6,802.6 L697.6,786.2 L695.6,769.8 L693.6,753.5 L691.6,737.1 L689.6,720.9 L687.6,704.6 L685.6,688.4 L683.6,672.2 L681.7,656.0 L679.7,639.9 L677.7,623.8 L675.7,607.8 L673.8,591.8 L671.8,575.8 L669.9,559.8 L667.9,543.9 L666.0,528.0 L664.0,512.1 L662.1,496.3 L660.2,480.5 L658.2,464.7 L656.3,449.0 L654.4,433.3 L652.5,417.6 L650.5,401.9 L648.6,386.3 L646.7,370.7 L644.8,355.1 L642.9,339.6 L641.0,324.1 L639.1,308.6 L637.2,293.1 L635.3,277.7 L633.4,262.3 L631.6,246.9 L629.7,231.6 L627.8,216.2 L625.9,200.9 L624.1,185.7"/>
<path d="M791.8,1080.0 L789.4,1062.9 L787.0,1046.0 L784.6,1029.0 L782.3,1012.1 L779.9,995.2 L777.5,978.4 L775.2,961.6 L772.8,944.9 L770.5,928.2 L768.2,911.5 L765.8,894.8 L763.5,878.2 L761.2,861.7 L758.9,845.1 L756.6,828.6 L754.2,812.2 L751.9,795.8 L749.7,779.4 L747.4,763.0 L745.1,746.7 L742.8,730.4 L740.5,714.2 L738.2,698.0 L736.0,681.8 L733.7,665.6 L731.5,649.5 L729.2,633.4 L726.9,617.4 L724.7,601.4 L722.5,585.4 L720.2,569.4 L718.0,553.5 L715.8,537.6 L713.5,521.8 L711.3,505.9 L709.1,490.1 L706.9,474.4 L704.7,458.6 L702.5,442.9 L700.3,427.2 L698.1,411.6 L695.9,396.0 L693.7,380.4 L691.5,364.8 L689.4,349.3 L687.2,333.8 L685.0,318.3 L682.9,302.8 L680.7,287.4 L678.5,272.0 L676.4,256.7 L674.2,241.3 L672.1,226.0 L670.0,210.7 L667.8,195.4 L665.7,180.2"/>
<path d="M848.9,1071.5 L846.3,1054.5 L843.6,1037.5 L840.9,1020.6 L838.2,1003.8 L835.6,987.0 L832.9,970.2 L830.3,953.4 L827.7,936.7 L825.0,920.0 L822.4,903.4 L819.8,886.8 L817.2,870.3 L814.5,853.7 L811.9,837.2 L809.3,820.8 L806.8,804.4 L804.2,788.0 L801.6,771.7 L799.0,755.3 L796.4,739.1 L793.9,722.8 L791.3,706.6 L788.8,690.4 L786.2,674.3 L783.7,658.2 L781.1,642.1 L778.6,626.1 L776.1,610.1 L773.5,594.1 L771.0,578.2 L768.5,562.2 L766.0,546.4 L763.5,530.5 L761.0,514.7 L758.5,498.9 L756.0,483.2 L753.5,467.4 L751.1,451.7 L748.6,436.1 L746.1,420.4 L743.6,404.8 L741.2,389.2 L738.7,373.7 L736.3,358.2 L733.8,342.7 L731.4,327.2 L728.9,311.8 L726.5,296.3 L724.1,281.0 L721.7,265.6 L719.2,250.3 L716.8,235.0 L714.4,219.7 L712.0,204.5 L709.6,189.2 L707.2,174.0"/>
<path d="M905.9,1062.0 L903.0,1045.0 L900.0,1028.1 L897.0,1011.3 L894.1,994.5 L891.1,977.7 L888.2,961.0 L885.2,944.3 L882.3,927.6 L879.4,911.0 L876.5,894.4 L873.6,877.9 L870.7,861.3 L867.8,844.9 L864.9,828.4 L862.0,812.0 L859.1,795.7 L856.2,779.3 L853.4,763.0 L850.5,746.8 L847.7,730.5 L844.8,714.3 L842.0,698.2 L839.1,682.1 L836.3,666.0 L833.5,649.9 L830.7,633.9 L827.9,617.9 L825.0,601.9 L822.2,586.0 L819.4,570.1 L816.7,554.2 L813.9,538.4 L811.1,522.6 L808.3,506.8 L805.6,491.1 L802.8,475.4 L800.0,459.7 L797.3,444.0 L794.5,428.4 L791.8,412.8 L789.1,397.2 L786.3,381.7 L783.6,366.2 L780.9,350.7 L778.2,335.3 L775.4,319.9 L772.7,304.5 L770.0,289.1 L767.3,273.8 L764.7,258.5 L762.0,243.2 L759.3,227.9 L756.6,212.7 L753.9,197.5 L751.3,182.3 L748.6,167.1"/>
</g>
</g>
<rect x="26.150000000000002" y="319.75" width="753.6" height="656.3" fill="none" stroke="#777" stroke-width="1.7"/>
<g font-family="Liberation Sans, Arial, sans-serif" font-weight="bold" font-size="11.3" fill="#111" text-anchor="middle">
<text x="331.0" y="908.7" textLength="25.6" lengthAdjust="spacingAndGlyphs">36ºN</text>
<text x="331.0" y="842.0" textLength="25.6" lengthAdjust="spacingAndGlyphs">37ºN</text>
<text x="331.0" y="775.9" textLength="25.6" lengthAdjust="spacingAndGlyphs">38ºN</text>
<text x="331.0" y="710.4" textLength="25.6" lengthAdjust="spacingAndGlyphs">39ºN</text>
<text x="331.0" y="645.3" textLength="25.6" lengthAdjust="spacingAndGlyphs">40ºN</text>
<text x="331.0" y="580.8" textLength="25.6" lengthAdjust="spacingAndGlyphs">41ºN</text>
<text x="331.0" y="516.8" textLength="25.6" lengthAdjust="spacingAndGlyphs">42ºN</text>
<text x="331.0" y="453.3" textLength="25.6" lengthAdjust="spacingAndGlyphs">43ºN</text>
<text x="331.0" y="390.3" textLength="25.6" lengthAdjust="spacingAndGlyphs">44ºN</text>
<text x="331.0" y="327.7" textLength="25.6" lengthAdjust="spacingAndGlyphs">45ºN</text>
<text x="53.0" y="988.8" textLength="21.8" lengthAdjust="spacingAndGlyphs">9ºW</text>
<text x="109.2" y="988.8" textLength="21.8" lengthAdjust="spacingAndGlyphs">8ºW</text>
<text x="164.5" y="988.8" textLength="21.8" lengthAdjust="spacingAndGlyphs">7ºW</text>
<text x="219.7" y="988.8" textLength="21.8" lengthAdjust="spacingAndGlyphs">6ºW</text>
<text x="275.4" y="988.8" textLength="21.8" lengthAdjust="spacingAndGlyphs">5ºW</text>
<text x="331.5" y="988.8" textLength="21.8" lengthAdjust="spacingAndGlyphs">4ºW</text>
<text x="386.6" y="988.8" textLength="21.8" lengthAdjust="spacingAndGlyphs">3ºW</text>
<text x="441.4" y="988.8" textLength="21.8" lengthAdjust="spacingAndGlyphs">2ºW</text>
<text x="497.5" y="988.8" textLength="21.8" lengthAdjust="spacingAndGlyphs">1ºW</text>
<text x="552.3" y="988.8" textLength="21.8" lengthAdjust="spacingAndGlyphs">0ºW</text>
<text x="609.8" y="988.8" textLength="21.8" lengthAdjust="spacingAndGlyphs">1ºE</text>
<text x="665.0" y="988.8" textLength="21.8" lengthAdjust="spacingAndGlyphs">2ºE</text>
<text x="721.0" y="988.8" textLength="21.8" lengthAdjust="spacingAndGlyphs">3ºE</text>
<text x="776.8" y="988.8" textLength="21.8" lengthAdjust="spacingAndGlyphs">4ºE</text>
<text x="9.5" y="714.5" textLength="23" lengthAdjust="spacingAndGlyphs">0ºW</text>
</g>
<rect x="793.5" y="324.00" width="28.0" height="59.21" fill="#fd6a32"/>
<rect x="793.5" y="382.91" width="28.0" height="59.21" fill="#fe8a58"/>
<rect x="793.5" y="441.82" width="28.0" height="59.21" fill="#feae80"/>
<rect x="793.5" y="500.73" width="28.0" height="59.21" fill="#fdc834"/>
<rect x="793.5" y="559.64" width="28.0" height="59.21" fill="#fcf644"/>
<rect x="793.5" y="618.55" width="28.0" height="59.21" fill="#fefb9e"/>
<rect x="793.5" y="677.45" width="28.0" height="59.21" fill="#a0d834"/>
<rect x="793.5" y="736.36" width="28.0" height="59.21" fill="#aaea00"/>
<rect x="793.5" y="795.27" width="28.0" height="59.21" fill="#bcfa30"/>
<rect x="793.5" y="854.18" width="28.0" height="59.21" fill="#aae0b0"/>
<rect x="793.5" y="913.09" width="28.0" height="59.21" fill="#c0fcc4"/>
<rect x="793.5" y="324" width="28.0" height="648" fill="none" stroke="#333" stroke-width="1.2"/>
<line x1="792.5" y1="324" x2="822.5" y2="324" stroke="#333" stroke-width="1.5"/>
<line x1="792.5" y1="972" x2="822.5" y2="972" stroke="#333" stroke-width="1.5"/>
<g font-family="Liberation Sans, Arial, sans-serif" font-size="14" fill="#222">
<line x1="792.5" y1="324.0" x2="795.5" y2="324.0" stroke="#222" stroke-width="1.2"/>
<text x="824.5" y="329.0">100</text>
<line x1="792.5" y1="382.9" x2="795.5" y2="382.9" stroke="#222" stroke-width="1.2"/>
<text x="824.5" y="387.9">90</text>
<line x1="792.5" y1="441.8" x2="795.5" y2="441.8" stroke="#222" stroke-width="1.2"/>
<text x="824.5" y="446.8">80</text>
<line x1="792.5" y1="500.7" x2="795.5" y2="500.7" stroke="#222" stroke-width="1.2"/>
<text x="824.5" y="505.7">70</text>
<line x1="792.5" y1="559.6" x2="795.5" y2="559.6" stroke="#222" stroke-width="1.2"/>
<text x="824.5" y="564.6">60</text>
<line x1="792.5" y1="618.5" x2="795.5" y2="618.5" stroke="#222" stroke-width="1.2"/>
<text x="824.5" y="623.5">50</text>
<line x1="792.5" y1="677.5" x2="795.5" y2="677.5" stroke="#222" stroke-width="1.2"/>
<text x="824.5" y="682.5">40</text>
<line x1="792.5" y1="736.4" x2="795.5" y2="736.4" stroke="#222" stroke-width="1.2"/>
<text x="824.5" y="741.4">30</text>
<line x1="792.5" y1="795.3" x2="795.5" y2="795.3" stroke="#222" stroke-width="1.2"/>
<text x="824.5" y="800.3">20</text>
<line x1="792.5" y1="854.2" x2="795.5" y2="854.2" stroke="#222" stroke-width="1.2"/>
<text x="824.5" y="859.2">10</text>
<line x1="792.5" y1="913.1" x2="795.5" y2="913.1" stroke="#222" stroke-width="1.2"/>
<text x="824.5" y="918.1">5</text>
<line x1="792.5" y1="972.0" x2="795.5" y2="972.0" stroke="#222" stroke-width="1.2"/>
<text x="824.5" y="977.0">1</text>
</g>
</svg>
</body></html>
